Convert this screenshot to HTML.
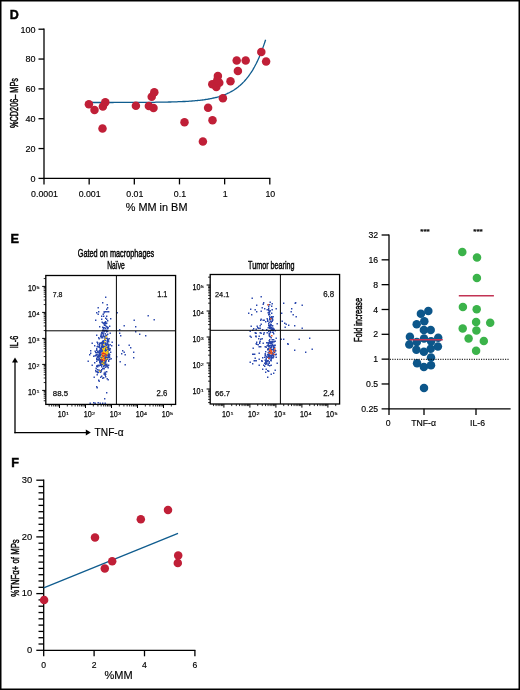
<!DOCTYPE html>
<html lang="en"><head><meta charset="utf-8"><title>Figure</title>
<style>html,body{margin:0;padding:0;background:#fff}svg{display:block}text{font-family:'Liberation Sans', sans-serif}</style>
</head><body>
<svg width="520" height="690" viewBox="0 0 520 690">
<rect x="0" y="0" width="520" height="690" fill="#fff"/>
<rect x="0.75" y="0.75" width="518.5" height="688.5" fill="none" stroke="#000" stroke-width="1.5"/>
<text x="9.70" y="19.00" font-size="12.5" font-weight="bold" stroke="#000" stroke-width="0.45">D</text>
<line x1="44.00" y1="28.60" x2="44.00" y2="179.00" stroke="#000" stroke-width="1.3"/>
<line x1="43.40" y1="178.40" x2="270.40" y2="178.40" stroke="#000" stroke-width="1.3"/>
<line x1="38.50" y1="178.40" x2="44.00" y2="178.40" stroke="#000" stroke-width="1.3"/>
<text x="35.50" y="181.70" font-size="9" text-anchor="end" stroke="#000" stroke-width="0.15">0</text>
<line x1="38.50" y1="148.56" x2="44.00" y2="148.56" stroke="#000" stroke-width="1.3"/>
<text x="35.50" y="151.86" font-size="9" text-anchor="end" stroke="#000" stroke-width="0.15">20</text>
<line x1="38.50" y1="118.72" x2="44.00" y2="118.72" stroke="#000" stroke-width="1.3"/>
<text x="35.50" y="122.02" font-size="9" text-anchor="end" stroke="#000" stroke-width="0.15">40</text>
<line x1="38.50" y1="88.88" x2="44.00" y2="88.88" stroke="#000" stroke-width="1.3"/>
<text x="35.50" y="92.18" font-size="9" text-anchor="end" stroke="#000" stroke-width="0.15">60</text>
<line x1="38.50" y1="59.04" x2="44.00" y2="59.04" stroke="#000" stroke-width="1.3"/>
<text x="35.50" y="62.34" font-size="9" text-anchor="end" stroke="#000" stroke-width="0.15">80</text>
<line x1="38.50" y1="29.20" x2="44.00" y2="29.20" stroke="#000" stroke-width="1.3"/>
<text x="35.50" y="32.50" font-size="9" text-anchor="end" stroke="#000" stroke-width="0.15">100</text>
<line x1="44.00" y1="178.40" x2="44.00" y2="184.40" stroke="#000" stroke-width="1.3"/>
<text x="44.50" y="197.20" font-size="8.8" text-anchor="middle" stroke="#000" stroke-width="0.15">0.0001</text>
<line x1="89.16" y1="178.40" x2="89.16" y2="184.40" stroke="#000" stroke-width="1.3"/>
<text x="89.66" y="197.20" font-size="8.8" text-anchor="middle" stroke="#000" stroke-width="0.15">0.001</text>
<line x1="134.32" y1="178.40" x2="134.32" y2="184.40" stroke="#000" stroke-width="1.3"/>
<text x="134.82" y="197.20" font-size="8.8" text-anchor="middle" stroke="#000" stroke-width="0.15">0.01</text>
<line x1="179.48" y1="178.40" x2="179.48" y2="184.40" stroke="#000" stroke-width="1.3"/>
<text x="179.98" y="197.20" font-size="8.8" text-anchor="middle" stroke="#000" stroke-width="0.15">0.1</text>
<line x1="224.64" y1="178.40" x2="224.64" y2="184.40" stroke="#000" stroke-width="1.3"/>
<text x="225.14" y="197.20" font-size="8.8" text-anchor="middle" stroke="#000" stroke-width="0.15">1</text>
<line x1="269.80" y1="178.40" x2="269.80" y2="184.40" stroke="#000" stroke-width="1.3"/>
<text x="270.30" y="197.20" font-size="8.8" text-anchor="middle" stroke="#000" stroke-width="0.15">10</text>
<text x="156.60" y="211.40" font-size="10.9" text-anchor="middle" stroke="#000" stroke-width="0.15">% MM in BM</text>
<text x="17.90" y="103.00" font-size="10.8" text-anchor="middle" textLength="50" lengthAdjust="spacingAndGlyphs" transform="rotate(-90 17.90 103.00)" stroke="#000" stroke-width="0.45">%CD206– MPs</text>
<polyline fill="none" stroke="#0f5c8e" stroke-width="1.3" points="92.0,102.5 93.6,102.5 95.2,102.5 96.8,102.5 98.4,102.5 100.0,102.5 101.6,102.5 103.2,102.5 104.8,102.5 106.4,102.5 108.0,102.5 109.6,102.5 111.2,102.5 112.8,102.5 114.4,102.4 116.0,102.4 117.6,102.4 119.2,102.4 120.8,102.4 122.4,102.4 124.0,102.4 125.6,102.4 127.2,102.4 128.8,102.4 130.4,102.4 132.0,102.4 133.6,102.4 135.2,102.4 136.8,102.4 138.4,102.4 140.0,102.4 141.6,102.4 143.2,102.4 144.8,102.3 146.4,102.3 148.0,102.3 149.6,102.3 151.2,102.3 152.8,102.3 154.4,102.3 156.0,102.2 157.6,102.2 159.2,102.2 160.8,102.2 162.4,102.2 164.0,102.1 165.6,102.1 167.2,102.1 168.8,102.0 170.4,102.0 172.0,101.9 173.6,101.9 175.2,101.9 176.8,101.8 178.4,101.7 180.0,101.7 181.6,101.6 183.2,101.5 184.8,101.5 186.4,101.4 188.0,101.3 189.6,101.2 191.2,101.1 192.0,101.0 192.8,100.9 193.6,100.9 194.4,100.8 195.2,100.7 196.0,100.7 196.8,100.6 197.6,100.5 198.4,100.4 199.2,100.4 200.0,100.3 200.8,100.2 201.6,100.1 202.4,100.0 203.2,99.9 204.0,99.8 204.8,99.6 205.6,99.5 206.4,99.4 207.2,99.3 208.0,99.1 208.8,99.0 209.6,98.9 210.4,98.7 211.2,98.6 212.0,98.4 212.8,98.2 213.6,98.0 214.4,97.9 215.2,97.7 216.0,97.5 216.8,97.3 217.6,97.0 218.4,96.8 219.2,96.6 220.0,96.3 220.8,96.1 221.6,95.8 222.4,95.5 223.2,95.2 224.0,94.9 224.8,94.6 225.6,94.3 226.4,94.0 227.2,93.6 228.0,93.2 228.8,92.9 229.6,92.5 230.4,92.0 231.2,91.6 232.0,91.2 232.8,90.7 233.6,90.2 234.4,89.7 235.2,89.1 236.0,88.6 236.8,88.0 237.6,87.4 238.4,86.8 239.2,86.1 240.0,85.5 240.8,84.7 241.6,84.0 242.4,83.2 243.2,82.4 244.0,81.6 244.8,80.7 245.6,79.8 246.4,78.9 247.2,77.9 248.0,76.9 248.8,75.8 249.6,74.7 250.4,73.5 251.2,72.3 252.0,71.1 252.8,69.8 253.6,68.4 254.4,67.0 255.2,65.5 256.0,64.0 256.8,62.4 257.6,60.7 258.4,59.0 259.2,57.2 260.0,55.3 260.8,53.3 261.6,51.3 262.4,49.1 263.2,46.9 264.0,44.6 264.8,42.2 265.6,39.7"/>
<circle cx="88.9" cy="104.3" r="4.25" fill="#c01f37"/>
<circle cx="94.5" cy="110.1" r="4.25" fill="#c01f37"/>
<circle cx="102.9" cy="106.5" r="4.25" fill="#c01f37"/>
<circle cx="105.3" cy="102.3" r="4.25" fill="#c01f37"/>
<circle cx="102.5" cy="128.5" r="4.25" fill="#c01f37"/>
<circle cx="135.9" cy="105.7" r="4.25" fill="#c01f37"/>
<circle cx="148.9" cy="105.9" r="4.25" fill="#c01f37"/>
<circle cx="153.5" cy="108.1" r="4.25" fill="#c01f37"/>
<circle cx="151.7" cy="96.7" r="4.25" fill="#c01f37"/>
<circle cx="154.3" cy="92.3" r="4.25" fill="#c01f37"/>
<circle cx="184.5" cy="122.3" r="4.25" fill="#c01f37"/>
<circle cx="202.9" cy="141.5" r="4.25" fill="#c01f37"/>
<circle cx="208.1" cy="107.7" r="4.25" fill="#c01f37"/>
<circle cx="212.5" cy="120.3" r="4.25" fill="#c01f37"/>
<circle cx="222.9" cy="98.3" r="4.25" fill="#c01f37"/>
<circle cx="230.5" cy="81.3" r="4.25" fill="#c01f37"/>
<circle cx="237.9" cy="71.1" r="4.25" fill="#c01f37"/>
<circle cx="236.7" cy="60.5" r="4.25" fill="#c01f37"/>
<circle cx="245.7" cy="60.5" r="4.25" fill="#c01f37"/>
<circle cx="261.3" cy="51.9" r="4.25" fill="#c01f37"/>
<circle cx="266.1" cy="61.5" r="4.25" fill="#c01f37"/>
<circle cx="212.3" cy="84.3" r="4.25" fill="#c01f37"/>
<circle cx="216.3" cy="86.9" r="4.25" fill="#c01f37"/>
<circle cx="219.3" cy="82.7" r="4.25" fill="#c01f37"/>
<circle cx="217.9" cy="75.9" r="4.25" fill="#c01f37"/>
<circle cx="217.3" cy="80.3" r="4.25" fill="#c01f37"/>
<text x="10.50" y="243.00" font-size="12.7" font-weight="bold" stroke="#000" stroke-width="0.45">E</text>
<path d="M101.5 358.5h1.4v1.4h-1.4zM102 351h1.4v1.4h-1.4zM99.5 353.5h1.4v1.4h-1.4zM106.5 354.5h1.4v1.4h-1.4zM106.5 353h1.4v1.4h-1.4zM104 354h1.4v1.4h-1.4zM96.5 365h1.4v1.4h-1.4zM104.5 356.5h1.4v1.4h-1.4zM96.5 341.5h1.4v1.4h-1.4zM99.5 351h1.4v1.4h-1.4zM103.5 352h1.4v1.4h-1.4zM104.5 346h1.4v1.4h-1.4zM104 356h1.4v1.4h-1.4zM100.5 370.5h1.4v1.4h-1.4zM104.5 363h1.4v1.4h-1.4zM100.5 348h1.4v1.4h-1.4zM101.5 353h1.4v1.4h-1.4zM105 354h1.4v1.4h-1.4zM101 345.5h1.4v1.4h-1.4zM101 366h1.4v1.4h-1.4zM99.5 357.5h1.4v1.4h-1.4zM104 338.5h1.4v1.4h-1.4zM103 365.5h1.4v1.4h-1.4zM95.5 355h1.4v1.4h-1.4zM102.5 346h1.4v1.4h-1.4zM104.5 351.5h1.4v1.4h-1.4zM97.5 364.5h1.4v1.4h-1.4zM105 360.5h1.4v1.4h-1.4zM108 353.5h1.4v1.4h-1.4zM103 341h1.4v1.4h-1.4zM105 346.5h1.4v1.4h-1.4zM101 343h1.4v1.4h-1.4zM99 351h1.4v1.4h-1.4zM97.5 359h1.4v1.4h-1.4zM108 355h1.4v1.4h-1.4zM96 334.5h1.4v1.4h-1.4zM104 345.5h1.4v1.4h-1.4zM98.5 365h1.4v1.4h-1.4zM106.5 352h1.4v1.4h-1.4zM103.5 357h1.4v1.4h-1.4zM108.5 355.5h1.4v1.4h-1.4zM104.5 357h1.4v1.4h-1.4zM97 369h1.4v1.4h-1.4zM106 356h1.4v1.4h-1.4zM95.5 352h1.4v1.4h-1.4zM105.5 334.5h1.4v1.4h-1.4zM102 363h1.4v1.4h-1.4zM98 371.5h1.4v1.4h-1.4zM104.5 350.5h1.4v1.4h-1.4zM104 358.5h1.4v1.4h-1.4zM103 363.5h1.4v1.4h-1.4zM100.5 351h1.4v1.4h-1.4zM106.5 351h1.4v1.4h-1.4zM99.5 364h1.4v1.4h-1.4zM108 346h1.4v1.4h-1.4zM97.5 355.5h1.4v1.4h-1.4zM102 351h1.4v1.4h-1.4zM107.5 340.5h1.4v1.4h-1.4zM107 338.5h1.4v1.4h-1.4zM100 361h1.4v1.4h-1.4zM106.5 358.5h1.4v1.4h-1.4zM104 354h1.4v1.4h-1.4zM103 358.5h1.4v1.4h-1.4zM102 356.5h1.4v1.4h-1.4zM104.5 352h1.4v1.4h-1.4zM105.5 356.5h1.4v1.4h-1.4zM110 351.5h1.4v1.4h-1.4zM101 351h1.4v1.4h-1.4zM102.5 362h1.4v1.4h-1.4zM101.5 357.5h1.4v1.4h-1.4zM98.5 358.5h1.4v1.4h-1.4zM104 354.5h1.4v1.4h-1.4zM101 360.5h1.4v1.4h-1.4zM103.5 348h1.4v1.4h-1.4zM100.5 354h1.4v1.4h-1.4zM102 353.5h1.4v1.4h-1.4zM93 355.5h1.4v1.4h-1.4zM106.5 340h1.4v1.4h-1.4zM102.5 362.5h1.4v1.4h-1.4zM105.5 365h1.4v1.4h-1.4zM96.5 354h1.4v1.4h-1.4zM101.5 360h1.4v1.4h-1.4zM106.5 337.5h1.4v1.4h-1.4zM105 338h1.4v1.4h-1.4zM103.5 364h1.4v1.4h-1.4zM102 355.5h1.4v1.4h-1.4zM105.5 353h1.4v1.4h-1.4zM102.5 367.5h1.4v1.4h-1.4zM106.5 348h1.4v1.4h-1.4zM106 348.5h1.4v1.4h-1.4zM103 359.5h1.4v1.4h-1.4zM103.5 358.5h1.4v1.4h-1.4zM97 343h1.4v1.4h-1.4zM105 343h1.4v1.4h-1.4zM99 342.5h1.4v1.4h-1.4zM107 357h1.4v1.4h-1.4zM108 341h1.4v1.4h-1.4zM102.5 343h1.4v1.4h-1.4zM105.5 366h1.4v1.4h-1.4zM99.5 370h1.4v1.4h-1.4zM106 349.5h1.4v1.4h-1.4zM95.5 371h1.4v1.4h-1.4zM102.5 348h1.4v1.4h-1.4zM104 356h1.4v1.4h-1.4zM108 340.5h1.4v1.4h-1.4zM106.5 364.5h1.4v1.4h-1.4zM108 348h1.4v1.4h-1.4zM100 364.5h1.4v1.4h-1.4zM103 354h1.4v1.4h-1.4zM108 347.5h1.4v1.4h-1.4zM94.5 355h1.4v1.4h-1.4zM96 365.5h1.4v1.4h-1.4zM104 347h1.4v1.4h-1.4zM102.5 361h1.4v1.4h-1.4zM103 365.5h1.4v1.4h-1.4zM102.5 363h1.4v1.4h-1.4zM108 364.5h1.4v1.4h-1.4zM100 363h1.4v1.4h-1.4zM96 348h1.4v1.4h-1.4zM95.5 368h1.4v1.4h-1.4zM98 356h1.4v1.4h-1.4zM102 353.5h1.4v1.4h-1.4zM100.5 357h1.4v1.4h-1.4zM109 349.5h1.4v1.4h-1.4zM104.5 361.5h1.4v1.4h-1.4zM102 342h1.4v1.4h-1.4zM100.5 364.5h1.4v1.4h-1.4zM96.5 352h1.4v1.4h-1.4zM106.5 358h1.4v1.4h-1.4zM102.5 360.5h1.4v1.4h-1.4zM103 342h1.4v1.4h-1.4zM97 351h1.4v1.4h-1.4zM106 346h1.4v1.4h-1.4zM99.5 348.5h1.4v1.4h-1.4zM97 356h1.4v1.4h-1.4zM98.5 359.5h1.4v1.4h-1.4zM94 362h1.4v1.4h-1.4zM100.5 337h1.4v1.4h-1.4zM105.5 349h1.4v1.4h-1.4zM94.5 350.5h1.4v1.4h-1.4zM103.5 348.5h1.4v1.4h-1.4zM105.5 358.5h1.4v1.4h-1.4zM105 355h1.4v1.4h-1.4zM107.5 356.5h1.4v1.4h-1.4zM104.5 333h1.4v1.4h-1.4zM106 363.5h1.4v1.4h-1.4zM101.5 349.5h1.4v1.4h-1.4zM109.5 332.5h1.4v1.4h-1.4zM104.5 374.5h1.4v1.4h-1.4zM99.5 362h1.4v1.4h-1.4zM109.5 348h1.4v1.4h-1.4zM104.5 360.5h1.4v1.4h-1.4zM99.5 354.5h1.4v1.4h-1.4zM103.5 360h1.4v1.4h-1.4zM102.5 351.5h1.4v1.4h-1.4zM99 352.5h1.4v1.4h-1.4zM106 352h1.4v1.4h-1.4zM99.5 347.5h1.4v1.4h-1.4zM105 356.5h1.4v1.4h-1.4zM108.5 353.5h1.4v1.4h-1.4zM102.5 358.5h1.4v1.4h-1.4zM95.5 367.5h1.4v1.4h-1.4zM104 346h1.4v1.4h-1.4zM107.5 367h1.4v1.4h-1.4zM97.5 350.5h1.4v1.4h-1.4zM103.5 354.5h1.4v1.4h-1.4zM101 345.5h1.4v1.4h-1.4zM110.5 358h1.4v1.4h-1.4zM98.5 344h1.4v1.4h-1.4zM109 358.5h1.4v1.4h-1.4zM109 356.5h1.4v1.4h-1.4zM99.5 358h1.4v1.4h-1.4zM95 351.5h1.4v1.4h-1.4zM102.5 358.5h1.4v1.4h-1.4zM100 354h1.4v1.4h-1.4zM104.5 355.5h1.4v1.4h-1.4zM105 354h1.4v1.4h-1.4zM101.5 361.5h1.4v1.4h-1.4zM103 345.5h1.4v1.4h-1.4zM100.5 355h1.4v1.4h-1.4zM102.5 355h1.4v1.4h-1.4zM102.5 355h1.4v1.4h-1.4zM102 342h1.4v1.4h-1.4zM104 362h1.4v1.4h-1.4zM104 350.5h1.4v1.4h-1.4zM104.5 343.5h1.4v1.4h-1.4zM96 358.5h1.4v1.4h-1.4zM99.5 362.5h1.4v1.4h-1.4zM99 370.5h1.4v1.4h-1.4zM101.5 341.5h1.4v1.4h-1.4zM100 360h1.4v1.4h-1.4zM104.5 354h1.4v1.4h-1.4zM108 356.5h1.4v1.4h-1.4zM102.5 359h1.4v1.4h-1.4zM108.5 358.5h1.4v1.4h-1.4zM106.5 341h1.4v1.4h-1.4zM102 360.5h1.4v1.4h-1.4zM101.5 364h1.4v1.4h-1.4zM105 360.5h1.4v1.4h-1.4zM102 377.5h1.4v1.4h-1.4zM107 348.5h1.4v1.4h-1.4zM103 377h1.4v1.4h-1.4zM101.5 362h1.4v1.4h-1.4zM106 351h1.4v1.4h-1.4zM98.5 358h1.4v1.4h-1.4zM104 363h1.4v1.4h-1.4zM105.5 351.5h1.4v1.4h-1.4zM105.5 356.5h1.4v1.4h-1.4zM103.5 353.5h1.4v1.4h-1.4zM102 360h1.4v1.4h-1.4zM99 350h1.4v1.4h-1.4zM102.5 340h1.4v1.4h-1.4zM101 336h1.4v1.4h-1.4zM100 360h1.4v1.4h-1.4zM104.5 351.5h1.4v1.4h-1.4zM102 341h1.4v1.4h-1.4zM109 354h1.4v1.4h-1.4zM106.5 342.5h1.4v1.4h-1.4zM102 337h1.4v1.4h-1.4zM105.5 360h1.4v1.4h-1.4zM96 357.5h1.4v1.4h-1.4zM105 335.5h1.4v1.4h-1.4zM96 348h1.4v1.4h-1.4zM100.5 342h1.4v1.4h-1.4zM103 355.5h1.4v1.4h-1.4zM105 358.5h1.4v1.4h-1.4zM108 360.5h1.4v1.4h-1.4zM98 352h1.4v1.4h-1.4zM99 346h1.4v1.4h-1.4zM102.5 353.5h1.4v1.4h-1.4zM104.5 337.5h1.4v1.4h-1.4zM98 356h1.4v1.4h-1.4zM102 351h1.4v1.4h-1.4zM102.5 346.5h1.4v1.4h-1.4zM105 355h1.4v1.4h-1.4zM102.5 347.5h1.4v1.4h-1.4zM99 356h1.4v1.4h-1.4zM97 359h1.4v1.4h-1.4zM103 340.5h1.4v1.4h-1.4zM101.5 351h1.4v1.4h-1.4zM104.5 358h1.4v1.4h-1.4zM102.5 345.5h1.4v1.4h-1.4zM102 353h1.4v1.4h-1.4zM105.5 354.5h1.4v1.4h-1.4zM100 342.5h1.4v1.4h-1.4zM101.5 347.5h1.4v1.4h-1.4zM98.5 355h1.4v1.4h-1.4zM101 355.5h1.4v1.4h-1.4zM104.5 348.5h1.4v1.4h-1.4zM111 345h1.4v1.4h-1.4zM106.5 352h1.4v1.4h-1.4zM100 357.5h1.4v1.4h-1.4zM105 373.5h1.4v1.4h-1.4zM104 364.5h1.4v1.4h-1.4zM105.5 360h1.4v1.4h-1.4zM104.5 350.5h1.4v1.4h-1.4zM104.5 342h1.4v1.4h-1.4zM107 341h1.4v1.4h-1.4zM103.5 372.5h1.4v1.4h-1.4zM102 354h1.4v1.4h-1.4zM107 351h1.4v1.4h-1.4zM99.5 357.5h1.4v1.4h-1.4zM104.5 358.5h1.4v1.4h-1.4zM100 371.5h1.4v1.4h-1.4zM108.5 349.5h1.4v1.4h-1.4zM103.5 349h1.4v1.4h-1.4zM107.5 343.5h1.4v1.4h-1.4zM105 347.5h1.4v1.4h-1.4zM100 361.5h1.4v1.4h-1.4zM107.5 350h1.4v1.4h-1.4zM100 362.5h1.4v1.4h-1.4zM102.5 356.5h1.4v1.4h-1.4zM108 360h1.4v1.4h-1.4zM101 375.5h1.4v1.4h-1.4zM102.5 360.5h1.4v1.4h-1.4zM100.5 354.5h1.4v1.4h-1.4zM96.5 374h1.4v1.4h-1.4zM107.5 339h1.4v1.4h-1.4zM97 342h1.4v1.4h-1.4zM107 346.5h1.4v1.4h-1.4zM102.5 350.5h1.4v1.4h-1.4zM102 343.5h1.4v1.4h-1.4zM102.5 340h1.4v1.4h-1.4zM102.5 356.5h1.4v1.4h-1.4zM104.5 350h1.4v1.4h-1.4zM99.5 357h1.4v1.4h-1.4zM101 369h1.4v1.4h-1.4zM105.5 350.5h1.4v1.4h-1.4zM101 348h1.4v1.4h-1.4zM99.5 352.5h1.4v1.4h-1.4zM103.5 357.5h1.4v1.4h-1.4zM104.5 371.5h1.4v1.4h-1.4zM100 355h1.4v1.4h-1.4zM101 356h1.4v1.4h-1.4zM103 356.5h1.4v1.4h-1.4zM102 357.5h1.4v1.4h-1.4zM103 360.5h1.4v1.4h-1.4zM96 349.5h1.4v1.4h-1.4zM102.5 344h1.4v1.4h-1.4zM99 361.5h1.4v1.4h-1.4zM100.5 360.5h1.4v1.4h-1.4zM105.5 354.5h1.4v1.4h-1.4zM104.5 351h1.4v1.4h-1.4zM97.5 356.5h1.4v1.4h-1.4zM104.5 347.5h1.4v1.4h-1.4zM102.5 360.5h1.4v1.4h-1.4zM99.5 361.5h1.4v1.4h-1.4zM109.5 344h1.4v1.4h-1.4zM103 351.5h1.4v1.4h-1.4zM108 352.5h1.4v1.4h-1.4zM106 345h1.4v1.4h-1.4zM102.5 353.5h1.4v1.4h-1.4zM96.5 371h1.4v1.4h-1.4zM106 335h1.4v1.4h-1.4zM105.5 350.5h1.4v1.4h-1.4zM104.5 355.5h1.4v1.4h-1.4zM97.5 355h1.4v1.4h-1.4zM108 344.5h1.4v1.4h-1.4zM99 343.5h1.4v1.4h-1.4zM98.5 359.5h1.4v1.4h-1.4zM108.5 353.5h1.4v1.4h-1.4zM103.5 373.5h1.4v1.4h-1.4zM101 348.5h1.4v1.4h-1.4zM104.5 357h1.4v1.4h-1.4zM99 345h1.4v1.4h-1.4zM103.5 355h1.4v1.4h-1.4zM98 354.5h1.4v1.4h-1.4zM100.5 359h1.4v1.4h-1.4zM102 353h1.4v1.4h-1.4zM101.5 364h1.4v1.4h-1.4zM107.5 346.5h1.4v1.4h-1.4zM105.5 344.5h1.4v1.4h-1.4zM103 360h1.4v1.4h-1.4zM108 346h1.4v1.4h-1.4zM102.5 355.5h1.4v1.4h-1.4zM97.5 357h1.4v1.4h-1.4zM100 358.5h1.4v1.4h-1.4zM98.5 338h1.4v1.4h-1.4zM103 355.5h1.4v1.4h-1.4zM100.5 363h1.4v1.4h-1.4zM101.5 348.5h1.4v1.4h-1.4zM104.5 338h1.4v1.4h-1.4zM100 355h1.4v1.4h-1.4zM105.5 350h1.4v1.4h-1.4zM104 346.5h1.4v1.4h-1.4zM103.5 368h1.4v1.4h-1.4zM100 376.5h1.4v1.4h-1.4zM100.5 355h1.4v1.4h-1.4zM103.5 362.5h1.4v1.4h-1.4zM98 337h1.4v1.4h-1.4zM105 359h1.4v1.4h-1.4zM105 376h1.4v1.4h-1.4zM103.5 355h1.4v1.4h-1.4zM106 354.5h1.4v1.4h-1.4zM108.5 338h1.4v1.4h-1.4zM105.5 348h1.4v1.4h-1.4zM106 371h1.4v1.4h-1.4zM102.5 351h1.4v1.4h-1.4zM101 347h1.4v1.4h-1.4zM100.5 360.5h1.4v1.4h-1.4zM103 354h1.4v1.4h-1.4zM102 362h1.4v1.4h-1.4zM104.5 351h1.4v1.4h-1.4zM105 350.5h1.4v1.4h-1.4zM98.5 369.5h1.4v1.4h-1.4zM104.5 343.5h1.4v1.4h-1.4zM106.5 354h1.4v1.4h-1.4zM97 372h1.4v1.4h-1.4zM104 361h1.4v1.4h-1.4zM103.5 351.5h1.4v1.4h-1.4zM97 366h1.4v1.4h-1.4zM103 350.5h1.4v1.4h-1.4zM104 353h1.4v1.4h-1.4zM105 348.5h1.4v1.4h-1.4zM102.5 334h1.4v1.4h-1.4zM101 360.5h1.4v1.4h-1.4zM107.5 347h1.4v1.4h-1.4zM102 368h1.4v1.4h-1.4zM101.5 361h1.4v1.4h-1.4zM108.5 349.5h1.4v1.4h-1.4zM107 344h1.4v1.4h-1.4zM103.5 352h1.4v1.4h-1.4zM103 363.5h1.4v1.4h-1.4zM111.5 341.5h1.4v1.4h-1.4zM100.5 359.5h1.4v1.4h-1.4zM99 360.5h1.4v1.4h-1.4zM104.5 349.5h1.4v1.4h-1.4zM104.5 338h1.4v1.4h-1.4zM105.5 337.5h1.4v1.4h-1.4zM100 350h1.4v1.4h-1.4zM101 362h1.4v1.4h-1.4zM103 349.5h1.4v1.4h-1.4zM104.5 366.5h1.4v1.4h-1.4zM102.5 356.5h1.4v1.4h-1.4zM107 353h1.4v1.4h-1.4zM98 379.5h1.4v1.4h-1.4zM102.5 357.5h1.4v1.4h-1.4zM106 357h1.4v1.4h-1.4zM101.5 344.5h1.4v1.4h-1.4zM103 362.5h1.4v1.4h-1.4zM98.5 346.5h1.4v1.4h-1.4zM102.5 335.5h1.4v1.4h-1.4zM101.5 350h1.4v1.4h-1.4zM104.5 346h1.4v1.4h-1.4zM99.5 352h1.4v1.4h-1.4zM102.5 347.5h1.4v1.4h-1.4zM102.5 360h1.4v1.4h-1.4zM107 366h1.4v1.4h-1.4zM100 351.5h1.4v1.4h-1.4zM93.5 376.5h1.4v1.4h-1.4zM100 355h1.4v1.4h-1.4zM104.5 339.5h1.4v1.4h-1.4zM104.5 352h1.4v1.4h-1.4zM96 360.5h1.4v1.4h-1.4zM107 333.5h1.4v1.4h-1.4zM105.5 353.5h1.4v1.4h-1.4zM104.5 356.5h1.4v1.4h-1.4zM107.5 348h1.4v1.4h-1.4zM106 347.5h1.4v1.4h-1.4zM105.5 344h1.4v1.4h-1.4zM104 338.5h1.4v1.4h-1.4zM105 325h1.4v1.4h-1.4zM101.5 321.5h1.4v1.4h-1.4zM104.5 333h1.4v1.4h-1.4zM105 329.5h1.4v1.4h-1.4zM104 336h1.4v1.4h-1.4zM103.5 323h1.4v1.4h-1.4zM106 326h1.4v1.4h-1.4zM103.5 322.5h1.4v1.4h-1.4zM103.5 331h1.4v1.4h-1.4zM105 317.5h1.4v1.4h-1.4zM105 327.5h1.4v1.4h-1.4zM102 332.5h1.4v1.4h-1.4zM103.5 324h1.4v1.4h-1.4zM106 335h1.4v1.4h-1.4zM102.5 330h1.4v1.4h-1.4zM103 335h1.4v1.4h-1.4zM102.5 332.5h1.4v1.4h-1.4zM103 330h1.4v1.4h-1.4zM104 322h1.4v1.4h-1.4zM109 325.5h1.4v1.4h-1.4zM100.5 333.5h1.4v1.4h-1.4zM100 335.5h1.4v1.4h-1.4zM103 328h1.4v1.4h-1.4zM107 326.5h1.4v1.4h-1.4zM101 315.5h1.4v1.4h-1.4zM107 330.5h1.4v1.4h-1.4zM102.5 333h1.4v1.4h-1.4zM105.5 330.5h1.4v1.4h-1.4zM99 326h1.4v1.4h-1.4zM106 331h1.4v1.4h-1.4zM106 308.5h1.4v1.4h-1.4zM104.5 329.5h1.4v1.4h-1.4zM110 318h1.4v1.4h-1.4zM103.5 327h1.4v1.4h-1.4zM106 322.5h1.4v1.4h-1.4zM107 320h1.4v1.4h-1.4zM105 322.5h1.4v1.4h-1.4zM104.5 321.5h1.4v1.4h-1.4zM100.5 335h1.4v1.4h-1.4zM105 322h1.4v1.4h-1.4zM104.5 333h1.4v1.4h-1.4zM102 326.5h1.4v1.4h-1.4zM105.5 329.5h1.4v1.4h-1.4zM103.5 312h1.4v1.4h-1.4zM107 328h1.4v1.4h-1.4zM104 324.5h1.4v1.4h-1.4zM105 323h1.4v1.4h-1.4zM102 322h1.4v1.4h-1.4zM103 322.5h1.4v1.4h-1.4zM101.5 331.5h1.4v1.4h-1.4zM101 332h1.4v1.4h-1.4zM102 329.5h1.4v1.4h-1.4zM107.5 327h1.4v1.4h-1.4zM102.5 327h1.4v1.4h-1.4zM97.5 356.5h1.4v1.4h-1.4zM98 355.5h1.4v1.4h-1.4zM104 363.5h1.4v1.4h-1.4zM105 361.5h1.4v1.4h-1.4zM99 354h1.4v1.4h-1.4zM99 350.5h1.4v1.4h-1.4zM98.5 354h1.4v1.4h-1.4zM95.5 354h1.4v1.4h-1.4zM103 352.5h1.4v1.4h-1.4zM103 350.5h1.4v1.4h-1.4zM104.5 359h1.4v1.4h-1.4zM100.5 347.5h1.4v1.4h-1.4zM103.5 348.5h1.4v1.4h-1.4zM101.5 348h1.4v1.4h-1.4zM89 354h1.4v1.4h-1.4zM101.5 363.5h1.4v1.4h-1.4zM96 354h1.4v1.4h-1.4zM103.5 356h1.4v1.4h-1.4zM106.5 378h1.4v1.4h-1.4zM104.5 372.5h1.4v1.4h-1.4zM105 364h1.4v1.4h-1.4zM97.5 346h1.4v1.4h-1.4zM105 343.5h1.4v1.4h-1.4zM91.5 342.5h1.4v1.4h-1.4zM97 345.5h1.4v1.4h-1.4zM101.5 345.5h1.4v1.4h-1.4zM107 353.5h1.4v1.4h-1.4zM95 370h1.4v1.4h-1.4zM97.5 357h1.4v1.4h-1.4zM100.5 350.5h1.4v1.4h-1.4zM102 346h1.4v1.4h-1.4zM94 345h1.4v1.4h-1.4zM100 355h1.4v1.4h-1.4zM103 356h1.4v1.4h-1.4zM96.5 346h1.4v1.4h-1.4zM90 352.5h1.4v1.4h-1.4zM103 360.5h1.4v1.4h-1.4zM99.5 352.5h1.4v1.4h-1.4zM105 354.5h1.4v1.4h-1.4zM104 361.5h1.4v1.4h-1.4zM105 296.5h1.4v1.4h-1.4zM102 302h1.4v1.4h-1.4zM106.5 304h1.4v1.4h-1.4zM97.5 307h1.4v1.4h-1.4zM107 307h1.4v1.4h-1.4zM96 312h1.4v1.4h-1.4zM98 311h1.4v1.4h-1.4zM97.5 313.5h1.4v1.4h-1.4zM103.5 311h1.4v1.4h-1.4zM105 311h1.4v1.4h-1.4zM106.5 311h1.4v1.4h-1.4zM108 311h1.4v1.4h-1.4zM102.5 313.5h1.4v1.4h-1.4zM103 315.5h1.4v1.4h-1.4zM106 315.5h1.4v1.4h-1.4zM95 319.5h1.4v1.4h-1.4zM101 318.5h1.4v1.4h-1.4zM106 318.5h1.4v1.4h-1.4zM105 321h1.4v1.4h-1.4zM116.5 312h1.4v1.4h-1.4zM147.5 315h1.4v1.4h-1.4zM153.5 319h1.4v1.4h-1.4zM133.5 319.5h1.4v1.4h-1.4zM123.5 325h1.4v1.4h-1.4zM135 326h1.4v1.4h-1.4zM119 329h1.4v1.4h-1.4zM135 331h1.4v1.4h-1.4zM139 333.5h1.4v1.4h-1.4zM145 335h1.4v1.4h-1.4zM120 335h1.4v1.4h-1.4zM119 332.5h1.4v1.4h-1.4zM118 344.5h1.4v1.4h-1.4zM128.5 344.5h1.4v1.4h-1.4zM130 347h1.4v1.4h-1.4zM122 350h1.4v1.4h-1.4zM123.5 351.5h1.4v1.4h-1.4zM133 351.5h1.4v1.4h-1.4zM121 353h1.4v1.4h-1.4zM124.5 354h1.4v1.4h-1.4zM116 356h1.4v1.4h-1.4zM133 357h1.4v1.4h-1.4zM119.5 361h1.4v1.4h-1.4zM124.5 364h1.4v1.4h-1.4zM106 392h1.4v1.4h-1.4zM107.5 379h1.4v1.4h-1.4zM98.5 380.5h1.4v1.4h-1.4zM96 386h1.4v1.4h-1.4zM96.5 387h1.4v1.4h-1.4zM104 398h1.4v1.4h-1.4zM87.5 360.5h1.4v1.4h-1.4zM90 350h1.4v1.4h-1.4zM91.5 364.5h1.4v1.4h-1.4zM89.5 402.5h1.4v1.4h-1.4zM93 402h1.4v1.4h-1.4zM94.5 402.5h1.4v1.4h-1.4zM97.5 402h1.4v1.4h-1.4zM99.5 402.5h1.4v1.4h-1.4zM102 402.5h1.4v1.4h-1.4zM104.5 402.5h1.4v1.4h-1.4z" fill="#2846ad"/>
<path d="M103.5 359.5h1.5v1.5h-1.5zM102 354h1.5v1.5h-1.5zM101.5 353h1.5v1.5h-1.5zM106 358h1.5v1.5h-1.5zM103 356.5h1.5v1.5h-1.5zM105.5 355h1.5v1.5h-1.5zM105.5 346h1.5v1.5h-1.5zM102 358h1.5v1.5h-1.5zM106 351h1.5v1.5h-1.5zM101.5 355h1.5v1.5h-1.5zM102 352h1.5v1.5h-1.5zM106 348h1.5v1.5h-1.5zM103 363.5h1.5v1.5h-1.5zM105.5 353h1.5v1.5h-1.5zM102 357.5h1.5v1.5h-1.5zM106.5 353h1.5v1.5h-1.5zM105.5 351.5h1.5v1.5h-1.5zM104 352h1.5v1.5h-1.5zM104 359h1.5v1.5h-1.5zM100 357.5h1.5v1.5h-1.5zM103.5 351h1.5v1.5h-1.5zM102.5 358.5h1.5v1.5h-1.5zM107 352h1.5v1.5h-1.5zM104 347h1.5v1.5h-1.5zM107 350h1.5v1.5h-1.5zM103 349.5h1.5v1.5h-1.5zM103 349.5h1.5v1.5h-1.5zM103 356h1.5v1.5h-1.5zM103 355.5h1.5v1.5h-1.5zM101.5 362.5h1.5v1.5h-1.5zM102 348h1.5v1.5h-1.5zM102.5 351.5h1.5v1.5h-1.5zM101 355.5h1.5v1.5h-1.5zM103.5 348.5h1.5v1.5h-1.5zM103 361h1.5v1.5h-1.5zM104.5 352h1.5v1.5h-1.5zM103.5 353.5h1.5v1.5h-1.5zM103 357.5h1.5v1.5h-1.5zM103 344h1.5v1.5h-1.5zM103 350.5h1.5v1.5h-1.5zM105.5 336h1.5v1.5h-1.5zM104.5 338.5h1.5v1.5h-1.5zM104 341h1.5v1.5h-1.5zM99 370.5h1.5v1.5h-1.5z" fill="#f6c619"/>
<path d="M104 353h1.5v1.5h-1.5zM103.5 359.5h1.5v1.5h-1.5zM102 354.5h1.5v1.5h-1.5zM101.5 352.5h1.5v1.5h-1.5zM101 359h1.5v1.5h-1.5zM102.5 352.5h1.5v1.5h-1.5zM101.5 359h1.5v1.5h-1.5zM102.5 355.5h1.5v1.5h-1.5zM103.5 357.5h1.5v1.5h-1.5zM105.5 354.5h1.5v1.5h-1.5z" fill="#e8341c"/>
<rect x="45.8" y="275.5" width="129.80" height="128.90" fill="none" stroke="#000" stroke-width="1.3"/>
<line x1="116.40" y1="275.50" x2="116.40" y2="404.40" stroke="#000" stroke-width="1.0"/>
<line x1="45.80" y1="330.80" x2="175.60" y2="330.80" stroke="#000" stroke-width="1.0"/>
<line x1="42.20" y1="286.40" x2="45.80" y2="286.40" stroke="#000" stroke-width="1.0"/>
<text x="28.00" y="290.90" font-size="8.4" textLength="8.0" lengthAdjust="spacingAndGlyphs" stroke="#000" stroke-width="0.25">10</text>
<text x="36.40" y="288.50" font-size="4.4" textLength="3.0" lengthAdjust="spacingAndGlyphs" stroke="#000" stroke-width="0.15">5</text>
<line x1="42.20" y1="312.40" x2="45.80" y2="312.40" stroke="#000" stroke-width="1.0"/>
<text x="28.00" y="316.90" font-size="8.4" textLength="8.0" lengthAdjust="spacingAndGlyphs" stroke="#000" stroke-width="0.25">10</text>
<text x="36.40" y="314.50" font-size="4.4" textLength="3.0" lengthAdjust="spacingAndGlyphs" stroke="#000" stroke-width="0.15">4</text>
<line x1="42.20" y1="338.40" x2="45.80" y2="338.40" stroke="#000" stroke-width="1.0"/>
<text x="28.00" y="342.90" font-size="8.4" textLength="8.0" lengthAdjust="spacingAndGlyphs" stroke="#000" stroke-width="0.25">10</text>
<text x="36.40" y="340.50" font-size="4.4" textLength="3.0" lengthAdjust="spacingAndGlyphs" stroke="#000" stroke-width="0.15">3</text>
<line x1="42.20" y1="364.40" x2="45.80" y2="364.40" stroke="#000" stroke-width="1.0"/>
<text x="28.00" y="368.90" font-size="8.4" textLength="8.0" lengthAdjust="spacingAndGlyphs" stroke="#000" stroke-width="0.25">10</text>
<text x="36.40" y="366.50" font-size="4.4" textLength="3.0" lengthAdjust="spacingAndGlyphs" stroke="#000" stroke-width="0.15">2</text>
<line x1="42.20" y1="390.40" x2="45.80" y2="390.40" stroke="#000" stroke-width="1.0"/>
<text x="28.00" y="394.90" font-size="8.4" textLength="8.0" lengthAdjust="spacingAndGlyphs" stroke="#000" stroke-width="0.25">10</text>
<text x="36.40" y="392.50" font-size="4.4" textLength="3.0" lengthAdjust="spacingAndGlyphs" stroke="#000" stroke-width="0.15">1</text>
<line x1="43.70" y1="278.57" x2="45.80" y2="278.57" stroke="#000" stroke-width="0.85"/>
<line x1="43.70" y1="304.57" x2="45.80" y2="304.57" stroke="#000" stroke-width="0.85"/>
<line x1="43.70" y1="299.99" x2="45.80" y2="299.99" stroke="#000" stroke-width="0.85"/>
<line x1="43.70" y1="296.75" x2="45.80" y2="296.75" stroke="#000" stroke-width="0.85"/>
<line x1="43.70" y1="294.23" x2="45.80" y2="294.23" stroke="#000" stroke-width="0.85"/>
<line x1="43.70" y1="292.17" x2="45.80" y2="292.17" stroke="#000" stroke-width="0.85"/>
<line x1="43.70" y1="290.43" x2="45.80" y2="290.43" stroke="#000" stroke-width="0.85"/>
<line x1="43.70" y1="288.92" x2="45.80" y2="288.92" stroke="#000" stroke-width="0.85"/>
<line x1="43.70" y1="287.59" x2="45.80" y2="287.59" stroke="#000" stroke-width="0.85"/>
<line x1="43.70" y1="330.57" x2="45.80" y2="330.57" stroke="#000" stroke-width="0.85"/>
<line x1="43.70" y1="325.99" x2="45.80" y2="325.99" stroke="#000" stroke-width="0.85"/>
<line x1="43.70" y1="322.75" x2="45.80" y2="322.75" stroke="#000" stroke-width="0.85"/>
<line x1="43.70" y1="320.23" x2="45.80" y2="320.23" stroke="#000" stroke-width="0.85"/>
<line x1="43.70" y1="318.17" x2="45.80" y2="318.17" stroke="#000" stroke-width="0.85"/>
<line x1="43.70" y1="316.43" x2="45.80" y2="316.43" stroke="#000" stroke-width="0.85"/>
<line x1="43.70" y1="314.92" x2="45.80" y2="314.92" stroke="#000" stroke-width="0.85"/>
<line x1="43.70" y1="313.59" x2="45.80" y2="313.59" stroke="#000" stroke-width="0.85"/>
<line x1="43.70" y1="356.57" x2="45.80" y2="356.57" stroke="#000" stroke-width="0.85"/>
<line x1="43.70" y1="351.99" x2="45.80" y2="351.99" stroke="#000" stroke-width="0.85"/>
<line x1="43.70" y1="348.75" x2="45.80" y2="348.75" stroke="#000" stroke-width="0.85"/>
<line x1="43.70" y1="346.23" x2="45.80" y2="346.23" stroke="#000" stroke-width="0.85"/>
<line x1="43.70" y1="344.17" x2="45.80" y2="344.17" stroke="#000" stroke-width="0.85"/>
<line x1="43.70" y1="342.43" x2="45.80" y2="342.43" stroke="#000" stroke-width="0.85"/>
<line x1="43.70" y1="340.92" x2="45.80" y2="340.92" stroke="#000" stroke-width="0.85"/>
<line x1="43.70" y1="339.59" x2="45.80" y2="339.59" stroke="#000" stroke-width="0.85"/>
<line x1="43.70" y1="382.57" x2="45.80" y2="382.57" stroke="#000" stroke-width="0.85"/>
<line x1="43.70" y1="377.99" x2="45.80" y2="377.99" stroke="#000" stroke-width="0.85"/>
<line x1="43.70" y1="374.75" x2="45.80" y2="374.75" stroke="#000" stroke-width="0.85"/>
<line x1="43.70" y1="372.23" x2="45.80" y2="372.23" stroke="#000" stroke-width="0.85"/>
<line x1="43.70" y1="370.17" x2="45.80" y2="370.17" stroke="#000" stroke-width="0.85"/>
<line x1="43.70" y1="368.43" x2="45.80" y2="368.43" stroke="#000" stroke-width="0.85"/>
<line x1="43.70" y1="366.92" x2="45.80" y2="366.92" stroke="#000" stroke-width="0.85"/>
<line x1="43.70" y1="365.59" x2="45.80" y2="365.59" stroke="#000" stroke-width="0.85"/>
<line x1="43.70" y1="400.75" x2="45.80" y2="400.75" stroke="#000" stroke-width="0.85"/>
<line x1="43.70" y1="398.23" x2="45.80" y2="398.23" stroke="#000" stroke-width="0.85"/>
<line x1="43.70" y1="396.17" x2="45.80" y2="396.17" stroke="#000" stroke-width="0.85"/>
<line x1="43.70" y1="394.43" x2="45.80" y2="394.43" stroke="#000" stroke-width="0.85"/>
<line x1="43.70" y1="392.92" x2="45.80" y2="392.92" stroke="#000" stroke-width="0.85"/>
<line x1="43.70" y1="391.59" x2="45.80" y2="391.59" stroke="#000" stroke-width="0.85"/>
<line x1="59.50" y1="404.40" x2="59.50" y2="408.00" stroke="#000" stroke-width="1.0"/>
<text x="57.70" y="417.40" font-size="8.4" textLength="8.0" lengthAdjust="spacingAndGlyphs" stroke="#000" stroke-width="0.25">10</text>
<text x="66.10" y="415.00" font-size="4.4" textLength="3.0" lengthAdjust="spacingAndGlyphs" stroke="#000" stroke-width="0.15">1</text>
<line x1="85.50" y1="404.40" x2="85.50" y2="408.00" stroke="#000" stroke-width="1.0"/>
<text x="83.70" y="417.40" font-size="8.4" textLength="8.0" lengthAdjust="spacingAndGlyphs" stroke="#000" stroke-width="0.25">10</text>
<text x="92.10" y="415.00" font-size="4.4" textLength="3.0" lengthAdjust="spacingAndGlyphs" stroke="#000" stroke-width="0.15">2</text>
<line x1="111.50" y1="404.40" x2="111.50" y2="408.00" stroke="#000" stroke-width="1.0"/>
<text x="109.70" y="417.40" font-size="8.4" textLength="8.0" lengthAdjust="spacingAndGlyphs" stroke="#000" stroke-width="0.25">10</text>
<text x="118.10" y="415.00" font-size="4.4" textLength="3.0" lengthAdjust="spacingAndGlyphs" stroke="#000" stroke-width="0.15">3</text>
<line x1="137.50" y1="404.40" x2="137.50" y2="408.00" stroke="#000" stroke-width="1.0"/>
<text x="135.70" y="417.40" font-size="8.4" textLength="8.0" lengthAdjust="spacingAndGlyphs" stroke="#000" stroke-width="0.25">10</text>
<text x="144.10" y="415.00" font-size="4.4" textLength="3.0" lengthAdjust="spacingAndGlyphs" stroke="#000" stroke-width="0.15">4</text>
<line x1="163.50" y1="404.40" x2="163.50" y2="408.00" stroke="#000" stroke-width="1.0"/>
<text x="161.70" y="417.40" font-size="8.4" textLength="8.0" lengthAdjust="spacingAndGlyphs" stroke="#000" stroke-width="0.25">10</text>
<text x="170.10" y="415.00" font-size="4.4" textLength="3.0" lengthAdjust="spacingAndGlyphs" stroke="#000" stroke-width="0.15">5</text>
<line x1="49.15" y1="404.40" x2="49.15" y2="406.50" stroke="#000" stroke-width="0.85"/>
<line x1="51.67" y1="404.40" x2="51.67" y2="406.50" stroke="#000" stroke-width="0.85"/>
<line x1="53.73" y1="404.40" x2="53.73" y2="406.50" stroke="#000" stroke-width="0.85"/>
<line x1="55.47" y1="404.40" x2="55.47" y2="406.50" stroke="#000" stroke-width="0.85"/>
<line x1="56.98" y1="404.40" x2="56.98" y2="406.50" stroke="#000" stroke-width="0.85"/>
<line x1="58.31" y1="404.40" x2="58.31" y2="406.50" stroke="#000" stroke-width="0.85"/>
<line x1="67.33" y1="404.40" x2="67.33" y2="406.50" stroke="#000" stroke-width="0.85"/>
<line x1="71.91" y1="404.40" x2="71.91" y2="406.50" stroke="#000" stroke-width="0.85"/>
<line x1="75.15" y1="404.40" x2="75.15" y2="406.50" stroke="#000" stroke-width="0.85"/>
<line x1="77.67" y1="404.40" x2="77.67" y2="406.50" stroke="#000" stroke-width="0.85"/>
<line x1="79.73" y1="404.40" x2="79.73" y2="406.50" stroke="#000" stroke-width="0.85"/>
<line x1="81.47" y1="404.40" x2="81.47" y2="406.50" stroke="#000" stroke-width="0.85"/>
<line x1="82.98" y1="404.40" x2="82.98" y2="406.50" stroke="#000" stroke-width="0.85"/>
<line x1="84.31" y1="404.40" x2="84.31" y2="406.50" stroke="#000" stroke-width="0.85"/>
<line x1="93.33" y1="404.40" x2="93.33" y2="406.50" stroke="#000" stroke-width="0.85"/>
<line x1="97.91" y1="404.40" x2="97.91" y2="406.50" stroke="#000" stroke-width="0.85"/>
<line x1="101.15" y1="404.40" x2="101.15" y2="406.50" stroke="#000" stroke-width="0.85"/>
<line x1="103.67" y1="404.40" x2="103.67" y2="406.50" stroke="#000" stroke-width="0.85"/>
<line x1="105.73" y1="404.40" x2="105.73" y2="406.50" stroke="#000" stroke-width="0.85"/>
<line x1="107.47" y1="404.40" x2="107.47" y2="406.50" stroke="#000" stroke-width="0.85"/>
<line x1="108.98" y1="404.40" x2="108.98" y2="406.50" stroke="#000" stroke-width="0.85"/>
<line x1="110.31" y1="404.40" x2="110.31" y2="406.50" stroke="#000" stroke-width="0.85"/>
<line x1="119.33" y1="404.40" x2="119.33" y2="406.50" stroke="#000" stroke-width="0.85"/>
<line x1="123.91" y1="404.40" x2="123.91" y2="406.50" stroke="#000" stroke-width="0.85"/>
<line x1="127.15" y1="404.40" x2="127.15" y2="406.50" stroke="#000" stroke-width="0.85"/>
<line x1="129.67" y1="404.40" x2="129.67" y2="406.50" stroke="#000" stroke-width="0.85"/>
<line x1="131.73" y1="404.40" x2="131.73" y2="406.50" stroke="#000" stroke-width="0.85"/>
<line x1="133.47" y1="404.40" x2="133.47" y2="406.50" stroke="#000" stroke-width="0.85"/>
<line x1="134.98" y1="404.40" x2="134.98" y2="406.50" stroke="#000" stroke-width="0.85"/>
<line x1="136.31" y1="404.40" x2="136.31" y2="406.50" stroke="#000" stroke-width="0.85"/>
<line x1="145.33" y1="404.40" x2="145.33" y2="406.50" stroke="#000" stroke-width="0.85"/>
<line x1="149.91" y1="404.40" x2="149.91" y2="406.50" stroke="#000" stroke-width="0.85"/>
<line x1="153.15" y1="404.40" x2="153.15" y2="406.50" stroke="#000" stroke-width="0.85"/>
<line x1="155.67" y1="404.40" x2="155.67" y2="406.50" stroke="#000" stroke-width="0.85"/>
<line x1="157.73" y1="404.40" x2="157.73" y2="406.50" stroke="#000" stroke-width="0.85"/>
<line x1="159.47" y1="404.40" x2="159.47" y2="406.50" stroke="#000" stroke-width="0.85"/>
<line x1="160.98" y1="404.40" x2="160.98" y2="406.50" stroke="#000" stroke-width="0.85"/>
<line x1="162.31" y1="404.40" x2="162.31" y2="406.50" stroke="#000" stroke-width="0.85"/>
<line x1="171.33" y1="404.40" x2="171.33" y2="406.50" stroke="#000" stroke-width="0.85"/>
<text x="52.80" y="296.90" font-size="8.1" textLength="9.7" lengthAdjust="spacingAndGlyphs" fill="#111" stroke="#111" stroke-width="0.25">7.8</text>
<text x="167.40" y="296.90" font-size="8.3" text-anchor="end" textLength="10.2" lengthAdjust="spacingAndGlyphs" fill="#111" stroke="#111" stroke-width="0.25">1.1</text>
<text x="52.80" y="395.80" font-size="8.1" textLength="15.3" lengthAdjust="spacingAndGlyphs" fill="#111" stroke="#111" stroke-width="0.25">88.5</text>
<text x="167.40" y="395.80" font-size="8.3" text-anchor="end" textLength="10.8" lengthAdjust="spacingAndGlyphs" fill="#111" stroke="#111" stroke-width="0.25">2.6</text>
<text x="116.00" y="256.70" font-size="11.7" text-anchor="middle" textLength="76.5" lengthAdjust="spacingAndGlyphs" stroke="#000" stroke-width="0.45">Gated on macrophages</text>
<text x="116.00" y="268.50" font-size="11.7" text-anchor="middle" textLength="17.5" lengthAdjust="spacingAndGlyphs" stroke="#000" stroke-width="0.45">Naïve</text>
<path d="M270 351.5h1.4v1.4h-1.4zM275 354h1.4v1.4h-1.4zM268.5 354.5h1.4v1.4h-1.4zM270 350.5h1.4v1.4h-1.4zM268 344.5h1.4v1.4h-1.4zM267.5 343.5h1.4v1.4h-1.4zM273 350.5h1.4v1.4h-1.4zM265.5 362.5h1.4v1.4h-1.4zM275 350h1.4v1.4h-1.4zM275.5 337.5h1.4v1.4h-1.4zM271 352h1.4v1.4h-1.4zM270 351.5h1.4v1.4h-1.4zM272.5 339h1.4v1.4h-1.4zM265.5 346.5h1.4v1.4h-1.4zM267.5 349h1.4v1.4h-1.4zM270.5 351.5h1.4v1.4h-1.4zM269.5 347h1.4v1.4h-1.4zM268 357.5h1.4v1.4h-1.4zM271.5 349h1.4v1.4h-1.4zM268.5 361h1.4v1.4h-1.4zM267.5 356.5h1.4v1.4h-1.4zM273 346h1.4v1.4h-1.4zM272 342h1.4v1.4h-1.4zM272.5 349h1.4v1.4h-1.4zM264.5 359.5h1.4v1.4h-1.4zM266.5 361h1.4v1.4h-1.4zM267.5 352h1.4v1.4h-1.4zM270 348h1.4v1.4h-1.4zM270 347h1.4v1.4h-1.4zM271.5 349h1.4v1.4h-1.4zM273 347.5h1.4v1.4h-1.4zM264 356.5h1.4v1.4h-1.4zM271 355.5h1.4v1.4h-1.4zM266 363h1.4v1.4h-1.4zM269 365h1.4v1.4h-1.4zM269 355h1.4v1.4h-1.4zM268.5 345.5h1.4v1.4h-1.4zM272.5 353h1.4v1.4h-1.4zM274 351.5h1.4v1.4h-1.4zM267.5 343h1.4v1.4h-1.4zM267.5 349h1.4v1.4h-1.4zM267 356.5h1.4v1.4h-1.4zM270.5 348.5h1.4v1.4h-1.4zM270 349.5h1.4v1.4h-1.4zM270 354.5h1.4v1.4h-1.4zM272 344h1.4v1.4h-1.4zM265 363.5h1.4v1.4h-1.4zM269.5 357h1.4v1.4h-1.4zM264.5 353.5h1.4v1.4h-1.4zM269.5 342.5h1.4v1.4h-1.4zM268 356.5h1.4v1.4h-1.4zM272.5 357h1.4v1.4h-1.4zM267 345h1.4v1.4h-1.4zM271 355h1.4v1.4h-1.4zM270 342.5h1.4v1.4h-1.4zM271.5 353h1.4v1.4h-1.4zM271 346.5h1.4v1.4h-1.4zM270.5 354.5h1.4v1.4h-1.4zM267.5 342h1.4v1.4h-1.4zM270.5 352.5h1.4v1.4h-1.4zM269.5 356h1.4v1.4h-1.4zM267.5 352h1.4v1.4h-1.4zM268.5 355h1.4v1.4h-1.4zM274 344.5h1.4v1.4h-1.4zM275.5 353.5h1.4v1.4h-1.4zM271.5 352h1.4v1.4h-1.4zM274.5 344.5h1.4v1.4h-1.4zM269 345h1.4v1.4h-1.4zM271 357.5h1.4v1.4h-1.4zM271 351.5h1.4v1.4h-1.4zM268.5 352.5h1.4v1.4h-1.4zM265 361h1.4v1.4h-1.4zM268 345.5h1.4v1.4h-1.4zM267 348.5h1.4v1.4h-1.4zM272 354.5h1.4v1.4h-1.4zM265.5 360h1.4v1.4h-1.4zM272 345h1.4v1.4h-1.4zM265 351h1.4v1.4h-1.4zM267.5 354.5h1.4v1.4h-1.4zM268.5 340h1.4v1.4h-1.4zM270 341.5h1.4v1.4h-1.4zM272 341h1.4v1.4h-1.4zM267.5 348h1.4v1.4h-1.4zM267.5 360h1.4v1.4h-1.4zM272 352h1.4v1.4h-1.4zM270.5 341h1.4v1.4h-1.4zM268 349h1.4v1.4h-1.4zM266.5 356.5h1.4v1.4h-1.4zM267 349h1.4v1.4h-1.4zM266 342h1.4v1.4h-1.4zM271 357h1.4v1.4h-1.4zM270 344.5h1.4v1.4h-1.4zM261 360h1.4v1.4h-1.4zM273 349h1.4v1.4h-1.4zM272 356.5h1.4v1.4h-1.4zM272.5 345h1.4v1.4h-1.4zM272.5 352.5h1.4v1.4h-1.4zM264.5 353h1.4v1.4h-1.4zM265 354.5h1.4v1.4h-1.4zM271 343h1.4v1.4h-1.4zM263 364.5h1.4v1.4h-1.4zM270.5 358.5h1.4v1.4h-1.4zM265.5 361h1.4v1.4h-1.4zM275.5 356.5h1.4v1.4h-1.4zM268.5 353h1.4v1.4h-1.4zM269 357h1.4v1.4h-1.4zM272.5 348.5h1.4v1.4h-1.4zM265.5 359h1.4v1.4h-1.4zM268 356h1.4v1.4h-1.4zM270 359.5h1.4v1.4h-1.4zM273 345h1.4v1.4h-1.4zM270.5 360h1.4v1.4h-1.4zM267.5 355h1.4v1.4h-1.4zM273 354.5h1.4v1.4h-1.4zM271 341.5h1.4v1.4h-1.4zM265.5 356h1.4v1.4h-1.4zM270.5 364.5h1.4v1.4h-1.4zM267 360h1.4v1.4h-1.4zM271.5 339h1.4v1.4h-1.4zM267 354h1.4v1.4h-1.4zM268 351.5h1.4v1.4h-1.4zM271 345h1.4v1.4h-1.4zM270.5 346h1.4v1.4h-1.4zM267.5 355.5h1.4v1.4h-1.4zM267.5 354h1.4v1.4h-1.4zM274 346.5h1.4v1.4h-1.4zM269 355.5h1.4v1.4h-1.4zM268.5 358h1.4v1.4h-1.4zM265.5 358h1.4v1.4h-1.4zM268 347.5h1.4v1.4h-1.4zM274.5 340.5h1.4v1.4h-1.4zM274.5 349.5h1.4v1.4h-1.4zM273.5 341h1.4v1.4h-1.4zM273 356h1.4v1.4h-1.4zM269 350.5h1.4v1.4h-1.4zM274.5 330h1.4v1.4h-1.4zM269 318h1.4v1.4h-1.4zM271 329.5h1.4v1.4h-1.4zM269.5 330h1.4v1.4h-1.4zM272.5 316h1.4v1.4h-1.4zM267.5 312h1.4v1.4h-1.4zM268 304h1.4v1.4h-1.4zM271 305.5h1.4v1.4h-1.4zM271 342h1.4v1.4h-1.4zM267 320h1.4v1.4h-1.4zM266.5 332h1.4v1.4h-1.4zM268.5 321.5h1.4v1.4h-1.4zM270 331.5h1.4v1.4h-1.4zM269.5 325h1.4v1.4h-1.4zM269 326h1.4v1.4h-1.4zM268 325h1.4v1.4h-1.4zM266.5 318h1.4v1.4h-1.4zM273.5 328.5h1.4v1.4h-1.4zM267.5 327h1.4v1.4h-1.4zM268 306h1.4v1.4h-1.4zM268.5 332.5h1.4v1.4h-1.4zM270.5 324.5h1.4v1.4h-1.4zM268.5 312.5h1.4v1.4h-1.4zM272.5 329.5h1.4v1.4h-1.4zM268 323h1.4v1.4h-1.4zM270.5 324h1.4v1.4h-1.4zM269.5 310h1.4v1.4h-1.4zM268 342.5h1.4v1.4h-1.4zM268.5 334h1.4v1.4h-1.4zM267 320.5h1.4v1.4h-1.4zM270.5 337h1.4v1.4h-1.4zM268 330.5h1.4v1.4h-1.4zM270.5 317.5h1.4v1.4h-1.4zM271 316h1.4v1.4h-1.4zM268.5 324.5h1.4v1.4h-1.4zM265 321h1.4v1.4h-1.4zM268 308h1.4v1.4h-1.4zM269 333h1.4v1.4h-1.4zM269 339h1.4v1.4h-1.4zM268 309.5h1.4v1.4h-1.4zM272.5 331.5h1.4v1.4h-1.4zM271.5 317.5h1.4v1.4h-1.4zM271.5 329h1.4v1.4h-1.4zM271 326.5h1.4v1.4h-1.4zM272 319.5h1.4v1.4h-1.4zM268 308h1.4v1.4h-1.4zM272 318.5h1.4v1.4h-1.4zM268 314h1.4v1.4h-1.4zM269 311h1.4v1.4h-1.4zM269.5 318h1.4v1.4h-1.4zM269 314h1.4v1.4h-1.4zM270 320.5h1.4v1.4h-1.4zM270 328h1.4v1.4h-1.4zM269 316h1.4v1.4h-1.4zM271.5 309h1.4v1.4h-1.4zM268.5 321.5h1.4v1.4h-1.4zM269.5 336h1.4v1.4h-1.4zM269 335.5h1.4v1.4h-1.4zM267.5 304h1.4v1.4h-1.4zM272 331.5h1.4v1.4h-1.4zM271 327h1.4v1.4h-1.4zM271 312.5h1.4v1.4h-1.4zM271.5 320.5h1.4v1.4h-1.4zM271.5 327.5h1.4v1.4h-1.4zM266.5 309h1.4v1.4h-1.4zM272 325h1.4v1.4h-1.4zM269 327.5h1.4v1.4h-1.4zM269 319h1.4v1.4h-1.4zM270 327h1.4v1.4h-1.4zM272.5 327.5h1.4v1.4h-1.4zM273 339h1.4v1.4h-1.4zM270 327h1.4v1.4h-1.4zM269.5 317h1.4v1.4h-1.4zM270 318.5h1.4v1.4h-1.4zM273 333h1.4v1.4h-1.4zM269 304h1.4v1.4h-1.4zM270 320.5h1.4v1.4h-1.4zM268 311.5h1.4v1.4h-1.4zM266 329h1.4v1.4h-1.4zM270 323.5h1.4v1.4h-1.4zM272.5 328.5h1.4v1.4h-1.4zM270.5 321.5h1.4v1.4h-1.4zM269 341h1.4v1.4h-1.4zM269.5 325.5h1.4v1.4h-1.4zM268.5 335h1.4v1.4h-1.4zM252 353.5h1.4v1.4h-1.4zM264.5 354.5h1.4v1.4h-1.4zM254 360h1.4v1.4h-1.4zM255.5 328.5h1.4v1.4h-1.4zM252 363h1.4v1.4h-1.4zM267 319.5h1.4v1.4h-1.4zM255 335.5h1.4v1.4h-1.4zM256 311h1.4v1.4h-1.4zM255.5 360h1.4v1.4h-1.4zM255.5 332.5h1.4v1.4h-1.4zM249.5 361.5h1.4v1.4h-1.4zM253.5 360h1.4v1.4h-1.4zM250.5 325.5h1.4v1.4h-1.4zM260.5 323.5h1.4v1.4h-1.4zM263 333.5h1.4v1.4h-1.4zM253 353.5h1.4v1.4h-1.4zM263 302h1.4v1.4h-1.4zM262.5 303.5h1.4v1.4h-1.4zM255.5 335.5h1.4v1.4h-1.4zM264 308h1.4v1.4h-1.4zM254.5 309h1.4v1.4h-1.4zM257.5 344h1.4v1.4h-1.4zM250.5 336.5h1.4v1.4h-1.4zM261.5 360.5h1.4v1.4h-1.4zM262 329h1.4v1.4h-1.4zM253 328h1.4v1.4h-1.4zM255.5 343h1.4v1.4h-1.4zM258.5 364.5h1.4v1.4h-1.4zM260.5 318.5h1.4v1.4h-1.4zM266.5 345h1.4v1.4h-1.4zM259.5 325h1.4v1.4h-1.4zM249.5 330.5h1.4v1.4h-1.4zM263.5 319.5h1.4v1.4h-1.4zM252.5 347.5h1.4v1.4h-1.4zM260 346h1.4v1.4h-1.4zM262 357h1.4v1.4h-1.4zM254.5 357.5h1.4v1.4h-1.4zM254 353.5h1.4v1.4h-1.4zM259.5 340.5h1.4v1.4h-1.4zM263.5 332h1.4v1.4h-1.4zM264.5 346h1.4v1.4h-1.4zM259.5 327.5h1.4v1.4h-1.4zM255 332.5h1.4v1.4h-1.4zM258 338h1.4v1.4h-1.4zM262.5 319.5h1.4v1.4h-1.4zM255.5 336h1.4v1.4h-1.4zM260 319.5h1.4v1.4h-1.4zM267 320h1.4v1.4h-1.4zM259 342h1.4v1.4h-1.4zM260 346h1.4v1.4h-1.4zM260 338.5h1.4v1.4h-1.4zM249.5 335.5h1.4v1.4h-1.4zM260.5 332.5h1.4v1.4h-1.4zM254.5 332h1.4v1.4h-1.4zM258.5 358.5h1.4v1.4h-1.4zM251 314h1.4v1.4h-1.4zM256.5 325.5h1.4v1.4h-1.4zM256 343.5h1.4v1.4h-1.4zM259 341.5h1.4v1.4h-1.4zM258.5 352.5h1.4v1.4h-1.4zM259.5 332h1.4v1.4h-1.4zM260.5 310.5h1.4v1.4h-1.4zM250 308.5h1.4v1.4h-1.4zM261.5 338h1.4v1.4h-1.4zM257 327h1.4v1.4h-1.4zM252 329.5h1.4v1.4h-1.4zM262.5 342.5h1.4v1.4h-1.4zM258.5 346h1.4v1.4h-1.4zM256 341.5h1.4v1.4h-1.4zM259 346h1.4v1.4h-1.4zM258.5 335.5h1.4v1.4h-1.4zM258 327.5h1.4v1.4h-1.4zM274.5 369.5h1.4v1.4h-1.4zM267 376.5h1.4v1.4h-1.4zM268 370.5h1.4v1.4h-1.4zM273 372.5h1.4v1.4h-1.4zM268.5 362.5h1.4v1.4h-1.4zM262 368.5h1.4v1.4h-1.4zM267.5 363.5h1.4v1.4h-1.4zM264 365.5h1.4v1.4h-1.4zM265.5 368.5h1.4v1.4h-1.4zM264 362.5h1.4v1.4h-1.4zM270.5 373.5h1.4v1.4h-1.4zM265 371.5h1.4v1.4h-1.4zM267 370h1.4v1.4h-1.4zM267.5 364.5h1.4v1.4h-1.4zM251.5 297.5h1.4v1.4h-1.4zM260.5 296h1.4v1.4h-1.4zM269.5 301.5h1.4v1.4h-1.4zM256 304.5h1.4v1.4h-1.4zM261.5 307h1.4v1.4h-1.4zM281.5 320.5h1.4v1.4h-1.4zM284 322.5h1.4v1.4h-1.4zM284.5 326.5h1.4v1.4h-1.4zM283 302.5h1.4v1.4h-1.4zM294.5 302.5h1.4v1.4h-1.4zM291 308h1.4v1.4h-1.4zM290.5 311h1.4v1.4h-1.4zM292.5 314h1.4v1.4h-1.4zM295.5 316h1.4v1.4h-1.4zM288 324.5h1.4v1.4h-1.4zM285.5 323.5h1.4v1.4h-1.4zM294 325h1.4v1.4h-1.4zM301.5 327.5h1.4v1.4h-1.4zM295 302h1.4v1.4h-1.4zM301.5 304.5h1.4v1.4h-1.4zM281 312.5h1.4v1.4h-1.4zM280.5 338.5h1.4v1.4h-1.4zM283 338.5h1.4v1.4h-1.4zM287 343h1.4v1.4h-1.4zM298.5 338.5h1.4v1.4h-1.4zM309 337.5h1.4v1.4h-1.4zM311.5 348.5h1.4v1.4h-1.4zM294 349.5h1.4v1.4h-1.4zM305 351.5h1.4v1.4h-1.4zM276.5 362.5h1.4v1.4h-1.4zM287.5 343.5h1.4v1.4h-1.4zM248 312.5h1.4v1.4h-1.4zM276.5 323h1.4v1.4h-1.4zM271.5 303h1.4v1.4h-1.4zM275.5 308h1.4v1.4h-1.4zM259 342.5h1.4v1.4h-1.4z" fill="#2846ad"/>
<path d="M271 353h1.5v1.5h-1.5zM268 357.5h1.5v1.5h-1.5zM273.5 353.5h1.5v1.5h-1.5zM273.5 350.5h1.5v1.5h-1.5zM269 349.5h1.5v1.5h-1.5zM268.5 352h1.5v1.5h-1.5zM269.5 352.5h1.5v1.5h-1.5zM274 348h1.5v1.5h-1.5zM271 351.5h1.5v1.5h-1.5zM270.5 350h1.5v1.5h-1.5zM269.5 348.5h1.5v1.5h-1.5zM270 350.5h1.5v1.5h-1.5zM267.5 304h1.5v1.5h-1.5zM270 318h1.5v1.5h-1.5zM271 335h1.5v1.5h-1.5z" fill="#ee5a24"/>
<rect x="210.2" y="274.5" width="129.40" height="129.50" fill="none" stroke="#000" stroke-width="1.3"/>
<line x1="280.40" y1="274.50" x2="280.40" y2="404.00" stroke="#000" stroke-width="1.0"/>
<line x1="210.20" y1="330.30" x2="339.60" y2="330.30" stroke="#000" stroke-width="1.0"/>
<line x1="206.60" y1="285.00" x2="210.20" y2="285.00" stroke="#000" stroke-width="1.0"/>
<text x="192.40" y="290.30" font-size="8.4" textLength="8.0" lengthAdjust="spacingAndGlyphs" stroke="#000" stroke-width="0.25">10</text>
<text x="200.80" y="287.90" font-size="4.4" textLength="3.0" lengthAdjust="spacingAndGlyphs" stroke="#000" stroke-width="0.15">5</text>
<line x1="206.60" y1="311.00" x2="210.20" y2="311.00" stroke="#000" stroke-width="1.0"/>
<text x="192.40" y="316.30" font-size="8.4" textLength="8.0" lengthAdjust="spacingAndGlyphs" stroke="#000" stroke-width="0.25">10</text>
<text x="200.80" y="313.90" font-size="4.4" textLength="3.0" lengthAdjust="spacingAndGlyphs" stroke="#000" stroke-width="0.15">4</text>
<line x1="206.60" y1="337.00" x2="210.20" y2="337.00" stroke="#000" stroke-width="1.0"/>
<text x="192.40" y="342.30" font-size="8.4" textLength="8.0" lengthAdjust="spacingAndGlyphs" stroke="#000" stroke-width="0.25">10</text>
<text x="200.80" y="339.90" font-size="4.4" textLength="3.0" lengthAdjust="spacingAndGlyphs" stroke="#000" stroke-width="0.15">3</text>
<line x1="206.60" y1="363.00" x2="210.20" y2="363.00" stroke="#000" stroke-width="1.0"/>
<text x="192.40" y="368.30" font-size="8.4" textLength="8.0" lengthAdjust="spacingAndGlyphs" stroke="#000" stroke-width="0.25">10</text>
<text x="200.80" y="365.90" font-size="4.4" textLength="3.0" lengthAdjust="spacingAndGlyphs" stroke="#000" stroke-width="0.15">2</text>
<line x1="206.60" y1="389.00" x2="210.20" y2="389.00" stroke="#000" stroke-width="1.0"/>
<text x="192.40" y="394.30" font-size="8.4" textLength="8.0" lengthAdjust="spacingAndGlyphs" stroke="#000" stroke-width="0.25">10</text>
<text x="200.80" y="391.90" font-size="4.4" textLength="3.0" lengthAdjust="spacingAndGlyphs" stroke="#000" stroke-width="0.15">1</text>
<line x1="208.10" y1="277.17" x2="210.20" y2="277.17" stroke="#000" stroke-width="0.85"/>
<line x1="208.10" y1="303.17" x2="210.20" y2="303.17" stroke="#000" stroke-width="0.85"/>
<line x1="208.10" y1="298.59" x2="210.20" y2="298.59" stroke="#000" stroke-width="0.85"/>
<line x1="208.10" y1="295.35" x2="210.20" y2="295.35" stroke="#000" stroke-width="0.85"/>
<line x1="208.10" y1="292.83" x2="210.20" y2="292.83" stroke="#000" stroke-width="0.85"/>
<line x1="208.10" y1="290.77" x2="210.20" y2="290.77" stroke="#000" stroke-width="0.85"/>
<line x1="208.10" y1="289.03" x2="210.20" y2="289.03" stroke="#000" stroke-width="0.85"/>
<line x1="208.10" y1="287.52" x2="210.20" y2="287.52" stroke="#000" stroke-width="0.85"/>
<line x1="208.10" y1="286.19" x2="210.20" y2="286.19" stroke="#000" stroke-width="0.85"/>
<line x1="208.10" y1="329.17" x2="210.20" y2="329.17" stroke="#000" stroke-width="0.85"/>
<line x1="208.10" y1="324.59" x2="210.20" y2="324.59" stroke="#000" stroke-width="0.85"/>
<line x1="208.10" y1="321.35" x2="210.20" y2="321.35" stroke="#000" stroke-width="0.85"/>
<line x1="208.10" y1="318.83" x2="210.20" y2="318.83" stroke="#000" stroke-width="0.85"/>
<line x1="208.10" y1="316.77" x2="210.20" y2="316.77" stroke="#000" stroke-width="0.85"/>
<line x1="208.10" y1="315.03" x2="210.20" y2="315.03" stroke="#000" stroke-width="0.85"/>
<line x1="208.10" y1="313.52" x2="210.20" y2="313.52" stroke="#000" stroke-width="0.85"/>
<line x1="208.10" y1="312.19" x2="210.20" y2="312.19" stroke="#000" stroke-width="0.85"/>
<line x1="208.10" y1="355.17" x2="210.20" y2="355.17" stroke="#000" stroke-width="0.85"/>
<line x1="208.10" y1="350.59" x2="210.20" y2="350.59" stroke="#000" stroke-width="0.85"/>
<line x1="208.10" y1="347.35" x2="210.20" y2="347.35" stroke="#000" stroke-width="0.85"/>
<line x1="208.10" y1="344.83" x2="210.20" y2="344.83" stroke="#000" stroke-width="0.85"/>
<line x1="208.10" y1="342.77" x2="210.20" y2="342.77" stroke="#000" stroke-width="0.85"/>
<line x1="208.10" y1="341.03" x2="210.20" y2="341.03" stroke="#000" stroke-width="0.85"/>
<line x1="208.10" y1="339.52" x2="210.20" y2="339.52" stroke="#000" stroke-width="0.85"/>
<line x1="208.10" y1="338.19" x2="210.20" y2="338.19" stroke="#000" stroke-width="0.85"/>
<line x1="208.10" y1="381.17" x2="210.20" y2="381.17" stroke="#000" stroke-width="0.85"/>
<line x1="208.10" y1="376.59" x2="210.20" y2="376.59" stroke="#000" stroke-width="0.85"/>
<line x1="208.10" y1="373.35" x2="210.20" y2="373.35" stroke="#000" stroke-width="0.85"/>
<line x1="208.10" y1="370.83" x2="210.20" y2="370.83" stroke="#000" stroke-width="0.85"/>
<line x1="208.10" y1="368.77" x2="210.20" y2="368.77" stroke="#000" stroke-width="0.85"/>
<line x1="208.10" y1="367.03" x2="210.20" y2="367.03" stroke="#000" stroke-width="0.85"/>
<line x1="208.10" y1="365.52" x2="210.20" y2="365.52" stroke="#000" stroke-width="0.85"/>
<line x1="208.10" y1="364.19" x2="210.20" y2="364.19" stroke="#000" stroke-width="0.85"/>
<line x1="208.10" y1="402.59" x2="210.20" y2="402.59" stroke="#000" stroke-width="0.85"/>
<line x1="208.10" y1="399.35" x2="210.20" y2="399.35" stroke="#000" stroke-width="0.85"/>
<line x1="208.10" y1="396.83" x2="210.20" y2="396.83" stroke="#000" stroke-width="0.85"/>
<line x1="208.10" y1="394.77" x2="210.20" y2="394.77" stroke="#000" stroke-width="0.85"/>
<line x1="208.10" y1="393.03" x2="210.20" y2="393.03" stroke="#000" stroke-width="0.85"/>
<line x1="208.10" y1="391.52" x2="210.20" y2="391.52" stroke="#000" stroke-width="0.85"/>
<line x1="208.10" y1="390.19" x2="210.20" y2="390.19" stroke="#000" stroke-width="0.85"/>
<line x1="223.90" y1="404.00" x2="223.90" y2="407.60" stroke="#000" stroke-width="1.0"/>
<text x="222.10" y="417.00" font-size="8.4" textLength="8.0" lengthAdjust="spacingAndGlyphs" stroke="#000" stroke-width="0.25">10</text>
<text x="230.50" y="414.60" font-size="4.4" textLength="3.0" lengthAdjust="spacingAndGlyphs" stroke="#000" stroke-width="0.15">1</text>
<line x1="249.90" y1="404.00" x2="249.90" y2="407.60" stroke="#000" stroke-width="1.0"/>
<text x="248.10" y="417.00" font-size="8.4" textLength="8.0" lengthAdjust="spacingAndGlyphs" stroke="#000" stroke-width="0.25">10</text>
<text x="256.50" y="414.60" font-size="4.4" textLength="3.0" lengthAdjust="spacingAndGlyphs" stroke="#000" stroke-width="0.15">2</text>
<line x1="275.90" y1="404.00" x2="275.90" y2="407.60" stroke="#000" stroke-width="1.0"/>
<text x="274.10" y="417.00" font-size="8.4" textLength="8.0" lengthAdjust="spacingAndGlyphs" stroke="#000" stroke-width="0.25">10</text>
<text x="282.50" y="414.60" font-size="4.4" textLength="3.0" lengthAdjust="spacingAndGlyphs" stroke="#000" stroke-width="0.15">3</text>
<line x1="301.90" y1="404.00" x2="301.90" y2="407.60" stroke="#000" stroke-width="1.0"/>
<text x="300.10" y="417.00" font-size="8.4" textLength="8.0" lengthAdjust="spacingAndGlyphs" stroke="#000" stroke-width="0.25">10</text>
<text x="308.50" y="414.60" font-size="4.4" textLength="3.0" lengthAdjust="spacingAndGlyphs" stroke="#000" stroke-width="0.15">4</text>
<line x1="327.90" y1="404.00" x2="327.90" y2="407.60" stroke="#000" stroke-width="1.0"/>
<text x="326.10" y="417.00" font-size="8.4" textLength="8.0" lengthAdjust="spacingAndGlyphs" stroke="#000" stroke-width="0.25">10</text>
<text x="334.50" y="414.60" font-size="4.4" textLength="3.0" lengthAdjust="spacingAndGlyphs" stroke="#000" stroke-width="0.15">5</text>
<line x1="213.55" y1="404.00" x2="213.55" y2="406.10" stroke="#000" stroke-width="0.85"/>
<line x1="216.07" y1="404.00" x2="216.07" y2="406.10" stroke="#000" stroke-width="0.85"/>
<line x1="218.13" y1="404.00" x2="218.13" y2="406.10" stroke="#000" stroke-width="0.85"/>
<line x1="219.87" y1="404.00" x2="219.87" y2="406.10" stroke="#000" stroke-width="0.85"/>
<line x1="221.38" y1="404.00" x2="221.38" y2="406.10" stroke="#000" stroke-width="0.85"/>
<line x1="222.71" y1="404.00" x2="222.71" y2="406.10" stroke="#000" stroke-width="0.85"/>
<line x1="231.73" y1="404.00" x2="231.73" y2="406.10" stroke="#000" stroke-width="0.85"/>
<line x1="236.31" y1="404.00" x2="236.31" y2="406.10" stroke="#000" stroke-width="0.85"/>
<line x1="239.55" y1="404.00" x2="239.55" y2="406.10" stroke="#000" stroke-width="0.85"/>
<line x1="242.07" y1="404.00" x2="242.07" y2="406.10" stroke="#000" stroke-width="0.85"/>
<line x1="244.13" y1="404.00" x2="244.13" y2="406.10" stroke="#000" stroke-width="0.85"/>
<line x1="245.87" y1="404.00" x2="245.87" y2="406.10" stroke="#000" stroke-width="0.85"/>
<line x1="247.38" y1="404.00" x2="247.38" y2="406.10" stroke="#000" stroke-width="0.85"/>
<line x1="248.71" y1="404.00" x2="248.71" y2="406.10" stroke="#000" stroke-width="0.85"/>
<line x1="257.73" y1="404.00" x2="257.73" y2="406.10" stroke="#000" stroke-width="0.85"/>
<line x1="262.31" y1="404.00" x2="262.31" y2="406.10" stroke="#000" stroke-width="0.85"/>
<line x1="265.55" y1="404.00" x2="265.55" y2="406.10" stroke="#000" stroke-width="0.85"/>
<line x1="268.07" y1="404.00" x2="268.07" y2="406.10" stroke="#000" stroke-width="0.85"/>
<line x1="270.13" y1="404.00" x2="270.13" y2="406.10" stroke="#000" stroke-width="0.85"/>
<line x1="271.87" y1="404.00" x2="271.87" y2="406.10" stroke="#000" stroke-width="0.85"/>
<line x1="273.38" y1="404.00" x2="273.38" y2="406.10" stroke="#000" stroke-width="0.85"/>
<line x1="274.71" y1="404.00" x2="274.71" y2="406.10" stroke="#000" stroke-width="0.85"/>
<line x1="283.73" y1="404.00" x2="283.73" y2="406.10" stroke="#000" stroke-width="0.85"/>
<line x1="288.31" y1="404.00" x2="288.31" y2="406.10" stroke="#000" stroke-width="0.85"/>
<line x1="291.55" y1="404.00" x2="291.55" y2="406.10" stroke="#000" stroke-width="0.85"/>
<line x1="294.07" y1="404.00" x2="294.07" y2="406.10" stroke="#000" stroke-width="0.85"/>
<line x1="296.13" y1="404.00" x2="296.13" y2="406.10" stroke="#000" stroke-width="0.85"/>
<line x1="297.87" y1="404.00" x2="297.87" y2="406.10" stroke="#000" stroke-width="0.85"/>
<line x1="299.38" y1="404.00" x2="299.38" y2="406.10" stroke="#000" stroke-width="0.85"/>
<line x1="300.71" y1="404.00" x2="300.71" y2="406.10" stroke="#000" stroke-width="0.85"/>
<line x1="309.73" y1="404.00" x2="309.73" y2="406.10" stroke="#000" stroke-width="0.85"/>
<line x1="314.31" y1="404.00" x2="314.31" y2="406.10" stroke="#000" stroke-width="0.85"/>
<line x1="317.55" y1="404.00" x2="317.55" y2="406.10" stroke="#000" stroke-width="0.85"/>
<line x1="320.07" y1="404.00" x2="320.07" y2="406.10" stroke="#000" stroke-width="0.85"/>
<line x1="322.13" y1="404.00" x2="322.13" y2="406.10" stroke="#000" stroke-width="0.85"/>
<line x1="323.87" y1="404.00" x2="323.87" y2="406.10" stroke="#000" stroke-width="0.85"/>
<line x1="325.38" y1="404.00" x2="325.38" y2="406.10" stroke="#000" stroke-width="0.85"/>
<line x1="326.71" y1="404.00" x2="326.71" y2="406.10" stroke="#000" stroke-width="0.85"/>
<line x1="335.73" y1="404.00" x2="335.73" y2="406.10" stroke="#000" stroke-width="0.85"/>
<text x="215.00" y="296.90" font-size="8.1" textLength="14.4" lengthAdjust="spacingAndGlyphs" fill="#111" stroke="#111" stroke-width="0.25">24.1</text>
<text x="334.20" y="296.90" font-size="8.3" text-anchor="end" textLength="11" lengthAdjust="spacingAndGlyphs" fill="#111" stroke="#111" stroke-width="0.25">6.8</text>
<text x="215.00" y="395.60" font-size="8.1" textLength="15.2" lengthAdjust="spacingAndGlyphs" fill="#111" stroke="#111" stroke-width="0.25">66.7</text>
<text x="334.20" y="395.60" font-size="8.3" text-anchor="end" textLength="11" lengthAdjust="spacingAndGlyphs" fill="#111" stroke="#111" stroke-width="0.25">2.4</text>
<text x="271.30" y="268.50" font-size="11.7" text-anchor="middle" textLength="46.6" lengthAdjust="spacingAndGlyphs" stroke="#000" stroke-width="0.45">Tumor bearing</text>
<line x1="15.00" y1="360.00" x2="15.00" y2="433.20" stroke="#000" stroke-width="1.3"/>
<line x1="14.40" y1="432.60" x2="88.00" y2="432.60" stroke="#000" stroke-width="1.3"/>
<path d="M15 357.4L18 362.4H12z" fill="#000"/>
<path d="M90.8 432.6L85.8 429.6V435.6z" fill="#000"/>
<text x="94.60" y="436.00" font-size="10.5" textLength="29" lengthAdjust="spacingAndGlyphs" stroke="#000" stroke-width="0.15">TNF-α</text>
<text x="18.30" y="342.00" font-size="11.7" text-anchor="middle" textLength="12.5" lengthAdjust="spacingAndGlyphs" transform="rotate(-90 18.30 342.00)" stroke="#000" stroke-width="0.45">IL-6</text>
<line x1="389.00" y1="234.40" x2="389.00" y2="409.40" stroke="#000" stroke-width="1.3"/>
<line x1="381.60" y1="408.80" x2="510.60" y2="408.80" stroke="#000" stroke-width="1.3"/>
<line x1="381.60" y1="235.00" x2="389.00" y2="235.00" stroke="#000" stroke-width="1.3"/>
<text x="378.20" y="238.10" font-size="8.7" text-anchor="end" stroke="#000" stroke-width="0.15">32</text>
<line x1="381.60" y1="259.83" x2="389.00" y2="259.83" stroke="#000" stroke-width="1.3"/>
<text x="378.20" y="262.93" font-size="8.7" text-anchor="end" stroke="#000" stroke-width="0.15">16</text>
<line x1="381.60" y1="284.66" x2="389.00" y2="284.66" stroke="#000" stroke-width="1.3"/>
<text x="378.20" y="287.76" font-size="8.7" text-anchor="end" stroke="#000" stroke-width="0.15">8</text>
<line x1="381.60" y1="309.49" x2="389.00" y2="309.49" stroke="#000" stroke-width="1.3"/>
<text x="378.20" y="312.59" font-size="8.7" text-anchor="end" stroke="#000" stroke-width="0.15">4</text>
<line x1="381.60" y1="334.31" x2="389.00" y2="334.31" stroke="#000" stroke-width="1.3"/>
<text x="378.20" y="337.41" font-size="8.7" text-anchor="end" stroke="#000" stroke-width="0.15">2</text>
<line x1="381.60" y1="359.14" x2="389.00" y2="359.14" stroke="#000" stroke-width="1.3"/>
<text x="378.20" y="362.24" font-size="8.7" text-anchor="end" stroke="#000" stroke-width="0.15">1</text>
<line x1="381.60" y1="383.97" x2="389.00" y2="383.97" stroke="#000" stroke-width="1.3"/>
<text x="378.20" y="387.07" font-size="8.7" text-anchor="end" stroke="#000" stroke-width="0.15">0.5</text>
<text x="378.20" y="411.90" font-size="8.7" text-anchor="end" stroke="#000" stroke-width="0.15">0.25</text>
<line x1="389.00" y1="408.80" x2="389.00" y2="415.00" stroke="#000" stroke-width="1.3"/>
<line x1="424.00" y1="408.80" x2="424.00" y2="415.00" stroke="#000" stroke-width="1.3"/>
<line x1="476.00" y1="408.80" x2="476.00" y2="415.00" stroke="#000" stroke-width="1.3"/>
<text x="388.20" y="426.00" font-size="8.7" text-anchor="middle" stroke="#000" stroke-width="0.15">0</text>
<text x="423.60" y="426.00" font-size="8.7" text-anchor="middle" stroke="#000" stroke-width="0.15">TNF-α</text>
<text x="477.50" y="426.00" font-size="8.7" text-anchor="middle" stroke="#000" stroke-width="0.15">IL-6</text>
<text x="362.00" y="320.00" font-size="11.7" text-anchor="middle" textLength="44" lengthAdjust="spacingAndGlyphs" transform="rotate(-90 362.00 320.00)" stroke="#000" stroke-width="0.45">Fold increase</text>
<circle cx="428.3" cy="310.9" r="4.25" fill="#0c568a"/>
<circle cx="420.9" cy="313.8" r="4.25" fill="#0c568a"/>
<circle cx="424.3" cy="321.3" r="4.25" fill="#0c568a"/>
<circle cx="416.7" cy="324.3" r="4.25" fill="#0c568a"/>
<circle cx="423.9" cy="329.9" r="4.25" fill="#0c568a"/>
<circle cx="430.7" cy="329.9" r="4.25" fill="#0c568a"/>
<circle cx="409.9" cy="336.7" r="4.25" fill="#0c568a"/>
<circle cx="424.0" cy="338.5" r="4.25" fill="#0c568a"/>
<circle cx="438.2" cy="337.7" r="4.25" fill="#0c568a"/>
<circle cx="431.1" cy="341.2" r="4.25" fill="#0c568a"/>
<circle cx="416.8" cy="342.0" r="4.25" fill="#0c568a"/>
<circle cx="409.3" cy="344.5" r="4.25" fill="#0c568a"/>
<circle cx="437.9" cy="346.5" r="4.25" fill="#0c568a"/>
<circle cx="416.4" cy="349.8" r="4.25" fill="#0c568a"/>
<circle cx="430.7" cy="348.7" r="4.25" fill="#0c568a"/>
<circle cx="423.9" cy="351.7" r="4.25" fill="#0c568a"/>
<circle cx="431.0" cy="357.5" r="4.25" fill="#0c568a"/>
<circle cx="417.1" cy="363.3" r="4.25" fill="#0c568a"/>
<circle cx="431.0" cy="365.3" r="4.25" fill="#0c568a"/>
<circle cx="423.9" cy="367.1" r="4.25" fill="#0c568a"/>
<circle cx="424.0" cy="387.9" r="4.25" fill="#0c568a"/>
<circle cx="462.3" cy="252.0" r="4.25" fill="#3bb34a"/>
<circle cx="477.0" cy="257.4" r="4.25" fill="#3bb34a"/>
<circle cx="476.9" cy="277.9" r="4.25" fill="#3bb34a"/>
<circle cx="462.9" cy="306.9" r="4.25" fill="#3bb34a"/>
<circle cx="476.7" cy="309.3" r="4.25" fill="#3bb34a"/>
<circle cx="476.1" cy="322.1" r="4.25" fill="#3bb34a"/>
<circle cx="490.2" cy="322.7" r="4.25" fill="#3bb34a"/>
<circle cx="462.7" cy="328.6" r="4.25" fill="#3bb34a"/>
<circle cx="476.4" cy="330.6" r="4.25" fill="#3bb34a"/>
<circle cx="468.6" cy="338.4" r="4.25" fill="#3bb34a"/>
<circle cx="483.8" cy="341.0" r="4.25" fill="#3bb34a"/>
<circle cx="476.1" cy="350.8" r="4.25" fill="#3bb34a"/>
<line x1="389.8" y1="359.3" x2="508.6" y2="359.3" stroke="#000" stroke-width="1" stroke-dasharray="1.2 1.2"/>
<line x1="409.60" y1="339.70" x2="442.70" y2="339.70" stroke="#c23354" stroke-width="1.6"/>
<line x1="458.80" y1="295.80" x2="493.90" y2="295.80" stroke="#c23354" stroke-width="1.6"/>
<text x="425.00" y="234.40" font-size="8" text-anchor="middle" font-weight="bold" stroke="#000" stroke-width="0.15">***</text>
<text x="478.00" y="234.40" font-size="8" text-anchor="middle" font-weight="bold" stroke="#000" stroke-width="0.15">***</text>
<text x="11.30" y="466.50" font-size="12.7" font-weight="bold" stroke="#000" stroke-width="0.45">F</text>
<line x1="43.70" y1="479.60" x2="43.70" y2="650.90" stroke="#000" stroke-width="1.3"/>
<line x1="43.10" y1="650.30" x2="195.40" y2="650.30" stroke="#000" stroke-width="1.3"/>
<line x1="36.30" y1="650.30" x2="43.70" y2="650.30" stroke="#000" stroke-width="1.3"/>
<text x="32.20" y="653.00" font-size="9.4" text-anchor="end" stroke="#000" stroke-width="0.15">0</text>
<line x1="38.50" y1="644.00" x2="43.70" y2="644.00" stroke="#000" stroke-width="1.3"/>
<line x1="38.50" y1="637.70" x2="43.70" y2="637.70" stroke="#000" stroke-width="1.3"/>
<line x1="38.50" y1="631.40" x2="43.70" y2="631.40" stroke="#000" stroke-width="1.3"/>
<line x1="38.50" y1="625.10" x2="43.70" y2="625.10" stroke="#000" stroke-width="1.3"/>
<line x1="38.50" y1="618.80" x2="43.70" y2="618.80" stroke="#000" stroke-width="1.3"/>
<line x1="38.50" y1="612.50" x2="43.70" y2="612.50" stroke="#000" stroke-width="1.3"/>
<line x1="38.50" y1="606.20" x2="43.70" y2="606.20" stroke="#000" stroke-width="1.3"/>
<line x1="38.50" y1="599.90" x2="43.70" y2="599.90" stroke="#000" stroke-width="1.3"/>
<line x1="36.30" y1="593.60" x2="43.70" y2="593.60" stroke="#000" stroke-width="1.3"/>
<text x="32.20" y="596.30" font-size="9.4" text-anchor="end" stroke="#000" stroke-width="0.15">10</text>
<line x1="38.50" y1="587.30" x2="43.70" y2="587.30" stroke="#000" stroke-width="1.3"/>
<line x1="38.50" y1="581.00" x2="43.70" y2="581.00" stroke="#000" stroke-width="1.3"/>
<line x1="38.50" y1="574.70" x2="43.70" y2="574.70" stroke="#000" stroke-width="1.3"/>
<line x1="38.50" y1="568.40" x2="43.70" y2="568.40" stroke="#000" stroke-width="1.3"/>
<line x1="38.50" y1="562.10" x2="43.70" y2="562.10" stroke="#000" stroke-width="1.3"/>
<line x1="38.50" y1="555.80" x2="43.70" y2="555.80" stroke="#000" stroke-width="1.3"/>
<line x1="38.50" y1="549.50" x2="43.70" y2="549.50" stroke="#000" stroke-width="1.3"/>
<line x1="38.50" y1="543.20" x2="43.70" y2="543.20" stroke="#000" stroke-width="1.3"/>
<line x1="36.30" y1="536.90" x2="43.70" y2="536.90" stroke="#000" stroke-width="1.3"/>
<text x="32.20" y="539.60" font-size="9.4" text-anchor="end" stroke="#000" stroke-width="0.15">20</text>
<line x1="38.50" y1="530.60" x2="43.70" y2="530.60" stroke="#000" stroke-width="1.3"/>
<line x1="38.50" y1="524.30" x2="43.70" y2="524.30" stroke="#000" stroke-width="1.3"/>
<line x1="38.50" y1="518.00" x2="43.70" y2="518.00" stroke="#000" stroke-width="1.3"/>
<line x1="38.50" y1="511.70" x2="43.70" y2="511.70" stroke="#000" stroke-width="1.3"/>
<line x1="38.50" y1="505.40" x2="43.70" y2="505.40" stroke="#000" stroke-width="1.3"/>
<line x1="38.50" y1="499.10" x2="43.70" y2="499.10" stroke="#000" stroke-width="1.3"/>
<line x1="38.50" y1="492.80" x2="43.70" y2="492.80" stroke="#000" stroke-width="1.3"/>
<line x1="38.50" y1="486.50" x2="43.70" y2="486.50" stroke="#000" stroke-width="1.3"/>
<line x1="36.30" y1="480.20" x2="43.70" y2="480.20" stroke="#000" stroke-width="1.3"/>
<text x="32.20" y="482.90" font-size="9.4" text-anchor="end" stroke="#000" stroke-width="0.15">30</text>
<line x1="43.70" y1="650.30" x2="43.70" y2="656.30" stroke="#000" stroke-width="1.3"/>
<text x="43.70" y="667.60" font-size="8.6" text-anchor="middle" stroke="#000" stroke-width="0.15">0</text>
<line x1="94.10" y1="650.30" x2="94.10" y2="656.30" stroke="#000" stroke-width="1.3"/>
<text x="94.10" y="667.60" font-size="8.6" text-anchor="middle" stroke="#000" stroke-width="0.15">2</text>
<line x1="144.50" y1="650.30" x2="144.50" y2="656.30" stroke="#000" stroke-width="1.3"/>
<text x="144.50" y="667.60" font-size="8.6" text-anchor="middle" stroke="#000" stroke-width="0.15">4</text>
<line x1="194.90" y1="650.30" x2="194.90" y2="656.30" stroke="#000" stroke-width="1.3"/>
<text x="194.90" y="667.60" font-size="8.6" text-anchor="middle" stroke="#000" stroke-width="0.15">6</text>
<text x="118.50" y="678.70" font-size="11" text-anchor="middle" stroke="#000" stroke-width="0.15">%MM</text>
<text x="18.60" y="568.00" font-size="10.8" text-anchor="middle" textLength="57.5" lengthAdjust="spacingAndGlyphs" transform="rotate(-90 18.60 568.00)" stroke="#000" stroke-width="0.45">%TNFα+ of MPs</text>
<line x1="43.70" y1="587.80" x2="178.00" y2="533.40" stroke="#0f5c8e" stroke-width="1.3"/>
<circle cx="44.1" cy="600.0" r="4.25" fill="#c01f37"/>
<circle cx="95.0" cy="537.4" r="4.25" fill="#c01f37"/>
<circle cx="104.8" cy="568.4" r="4.25" fill="#c01f37"/>
<circle cx="112.2" cy="561.2" r="4.25" fill="#c01f37"/>
<circle cx="140.8" cy="519.2" r="4.25" fill="#c01f37"/>
<circle cx="168.0" cy="510.0" r="4.25" fill="#c01f37"/>
<circle cx="178.2" cy="555.6" r="4.25" fill="#c01f37"/>
<circle cx="177.8" cy="563.0" r="4.25" fill="#c01f37"/>
</svg>
</body></html>
